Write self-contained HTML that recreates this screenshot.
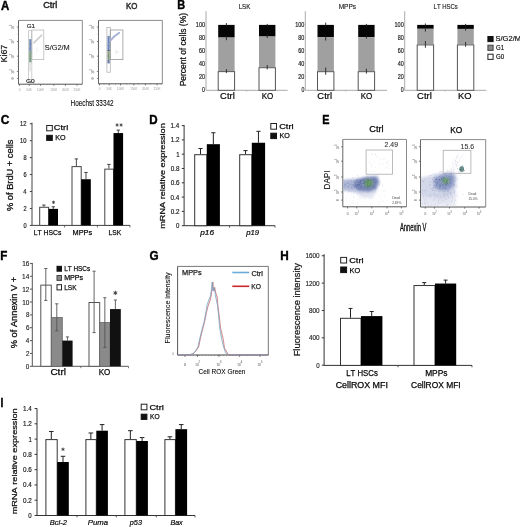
<!DOCTYPE html>
<html><head><meta charset="utf-8"><style>
html,body{margin:0;padding:0;background:#fff;}
body{width:520px;height:527px;overflow:hidden;}
svg{display:block;font-family:"Liberation Sans",sans-serif;will-change:transform;font-kerning:none;letter-spacing:0;}
</style></head><body>
<svg width="520" height="527" viewBox="0 0 520 527">
<rect width="520" height="527" fill="#fff"/>
<g>
<text x="1.06" y="9.5" font-size="12.2" font-weight="bold" fill="#000" textLength="8.29" lengthAdjust="spacingAndGlyphs" stroke="#000" stroke-width="0.4" >A</text>
<text x="43.26" y="7.6" font-size="9.4" fill="#222" textLength="14.12" lengthAdjust="spacingAndGlyphs" stroke="#222" stroke-width="0.45" >Ctrl</text>
<text x="125.98" y="8.75" font-size="9.7" fill="#222" textLength="11.37" lengthAdjust="spacingAndGlyphs" stroke="#222" stroke-width="0.45" >KO</text>
<text x="-0.73" y="0" font-size="8.7" transform="translate(7.1 61.8) rotate(-90)" fill="#111" textLength="17.78" lengthAdjust="spacingAndGlyphs" stroke="#111" stroke-width="0.2">Ki67</text>
<text x="70.53" y="105.7" font-size="9.4" textLength="43.05" lengthAdjust="spacingAndGlyphs" stroke="#111" stroke-width="0.1" >Hoechst 33342</text>
<line x1="18.5" y1="20.4" x2="82.3" y2="20.4" stroke="#8a8a8a" stroke-width="1"/>
<line x1="82.3" y1="20.4" x2="82.3" y2="84.2" stroke="#8a8a8a" stroke-width="1"/>
<line x1="18.5" y1="20.4" x2="18.5" y2="84.2" stroke="#666" stroke-width="1"/>
<line x1="18.5" y1="84.2" x2="82.3" y2="84.2" stroke="#555" stroke-width="1"/>
<line x1="16.9" y1="27" x2="18.5" y2="27" stroke="#666" stroke-width="0.8"/>
<text x="-0.21" y="0" font-size="3.6" transform="translate(14 29.15) rotate(-90)" fill="#8a8a8a" textLength="3.01" lengthAdjust="spacingAndGlyphs" stroke="#8a8a8a" stroke-width="0.1">10</text>
<text x="-0.09" y="0" font-size="2.6" transform="translate(12.3 25.95) rotate(-90)" fill="#8a8a8a" textLength="1.29" lengthAdjust="spacingAndGlyphs" stroke="#8a8a8a" stroke-width="0.1">5</text>
<line x1="16.9" y1="41.5" x2="18.5" y2="41.5" stroke="#666" stroke-width="0.8"/>
<text x="-0.21" y="0" font-size="3.6" transform="translate(14 43.65) rotate(-90)" fill="#8a8a8a" textLength="3.01" lengthAdjust="spacingAndGlyphs" stroke="#8a8a8a" stroke-width="0.1">10</text>
<text x="-0.05" y="0" font-size="2.6" transform="translate(12.3 40.45) rotate(-90)" fill="#8a8a8a" textLength="1.21" lengthAdjust="spacingAndGlyphs" stroke="#8a8a8a" stroke-width="0.1">4</text>
<line x1="16.9" y1="56.2" x2="18.5" y2="56.2" stroke="#666" stroke-width="0.8"/>
<text x="-0.21" y="0" font-size="3.6" transform="translate(14 58.35) rotate(-90)" fill="#8a8a8a" textLength="3.01" lengthAdjust="spacingAndGlyphs" stroke="#8a8a8a" stroke-width="0.1">10</text>
<text x="-0.09" y="0" font-size="2.6" transform="translate(12.3 55.15) rotate(-90)" fill="#8a8a8a" textLength="1.29" lengthAdjust="spacingAndGlyphs" stroke="#8a8a8a" stroke-width="0.1">3</text>
<line x1="16.9" y1="71.5" x2="18.5" y2="71.5" stroke="#666" stroke-width="0.8"/>
<text x="-0.21" y="0" font-size="3.6" transform="translate(14 73.65) rotate(-90)" fill="#8a8a8a" textLength="3.01" lengthAdjust="spacingAndGlyphs" stroke="#8a8a8a" stroke-width="0.1">10</text>
<text x="-0.12" y="0" font-size="2.6" transform="translate(12.3 70.45) rotate(-90)" fill="#8a8a8a" textLength="1.34" lengthAdjust="spacingAndGlyphs" stroke="#8a8a8a" stroke-width="0.1">2</text>
<line x1="16.9" y1="78.5" x2="18.5" y2="78.5" stroke="#666" stroke-width="0.8"/>
<text x="-0.12" y="0" font-size="3.4" transform="translate(14 79.25) rotate(-90)" fill="#8a8a8a" textLength="1.75" lengthAdjust="spacingAndGlyphs" stroke="#8a8a8a" stroke-width="0.1">0</text>
<line x1="17.6" y1="30" x2="18.5" y2="30" stroke="#777" stroke-width="0.6"/>
<line x1="17.6" y1="34" x2="18.5" y2="34" stroke="#777" stroke-width="0.6"/>
<line x1="17.6" y1="46" x2="18.5" y2="46" stroke="#777" stroke-width="0.6"/>
<line x1="17.6" y1="49" x2="18.5" y2="49" stroke="#777" stroke-width="0.6"/>
<line x1="17.6" y1="60" x2="18.5" y2="60" stroke="#777" stroke-width="0.6"/>
<line x1="17.6" y1="64" x2="18.5" y2="64" stroke="#777" stroke-width="0.6"/>
<line x1="17.6" y1="66.5" x2="18.5" y2="66.5" stroke="#777" stroke-width="0.6"/>
<line x1="19.5" y1="84.2" x2="19.5" y2="85.8" stroke="#555" stroke-width="0.8"/>
<text x="19.5" y="90.6" font-size="3" text-anchor="middle" fill="#999" >0</text>
<line x1="29.2" y1="84.2" x2="29.2" y2="85.8" stroke="#555" stroke-width="0.8"/>
<text x="29.2" y="90.6" font-size="3" text-anchor="middle" fill="#999" >50K</text>
<line x1="40.5" y1="84.2" x2="40.5" y2="85.8" stroke="#555" stroke-width="0.8"/>
<text x="40.5" y="90.6" font-size="3" text-anchor="middle" fill="#999" >100K</text>
<line x1="53.8" y1="84.2" x2="53.8" y2="85.8" stroke="#555" stroke-width="0.8"/>
<text x="53.8" y="90.6" font-size="3" text-anchor="middle" fill="#999" >150K</text>
<line x1="65.4" y1="84.2" x2="65.4" y2="85.8" stroke="#555" stroke-width="0.8"/>
<text x="65.4" y="90.6" font-size="3" text-anchor="middle" fill="#999" >200K</text>
<line x1="77" y1="84.2" x2="77" y2="85.8" stroke="#555" stroke-width="0.8"/>
<text x="77" y="90.6" font-size="3" text-anchor="middle" fill="#999" >250K</text>
<line x1="24" y1="84.2" x2="24" y2="85.1" stroke="#777" stroke-width="0.6"/>
<line x1="35.5" y1="84.2" x2="35.5" y2="85.1" stroke="#777" stroke-width="0.6"/>
<line x1="47" y1="84.2" x2="47" y2="85.1" stroke="#777" stroke-width="0.6"/>
<line x1="58.5" y1="84.2" x2="58.5" y2="85.1" stroke="#777" stroke-width="0.6"/>
<line x1="70" y1="84.2" x2="70" y2="85.1" stroke="#777" stroke-width="0.6"/>
<line x1="81.5" y1="84.2" x2="81.5" y2="85.1" stroke="#777" stroke-width="0.6"/>
<rect x="28.6" y="30.6" width="3.2" height="52.1" fill="none" stroke="#c4c4c4" stroke-width="0.8" />
<rect x="31.8" y="30" width="12" height="29.6" fill="none" stroke="#bbb" stroke-width="0.8" />
<rect x="29.2" y="39.2" width="2.2" height="12.2" fill="#7890bc"/>
<rect x="29.2" y="51.2" width="2.2" height="11.4" fill="#86a488"/>
<rect x="29.2" y="62.4" width="2.2" height="9" fill="#e4e6e4"/>
<circle cx="30.25" cy="49.38" r="0.35" fill="#9fb4d8" fill-opacity="0.7"/>
<circle cx="30.69" cy="43" r="0.35" fill="#5a7aaa" fill-opacity="0.7"/>
<circle cx="30.27" cy="45.23" r="0.35" fill="#9fb4d8" fill-opacity="0.7"/>
<circle cx="30.18" cy="47.55" r="0.35" fill="#5a7aaa" fill-opacity="0.7"/>
<circle cx="29.27" cy="46.24" r="0.35" fill="#9fb4d8" fill-opacity="0.7"/>
<circle cx="29.41" cy="49.19" r="0.35" fill="#4f6fa0" fill-opacity="0.7"/>
<circle cx="29.53" cy="39.72" r="0.35" fill="#5a7aaa" fill-opacity="0.7"/>
<circle cx="30.13" cy="45.39" r="0.35" fill="#4f6fa0" fill-opacity="0.7"/>
<circle cx="30.88" cy="52.41" r="0.35" fill="#4f6fa0" fill-opacity="0.7"/>
<circle cx="30.16" cy="45.83" r="0.35" fill="#9fb4d8" fill-opacity="0.7"/>
<circle cx="29.42" cy="45.95" r="0.35" fill="#9fb4d8" fill-opacity="0.7"/>
<circle cx="29.95" cy="37.31" r="0.35" fill="#9fb4d8" fill-opacity="0.7"/>
<circle cx="30.11" cy="40.45" r="0.35" fill="#4f6fa0" fill-opacity="0.7"/>
<circle cx="30.36" cy="43.91" r="0.35" fill="#4f6fa0" fill-opacity="0.7"/>
<circle cx="29.81" cy="45.09" r="0.35" fill="#5a7aaa" fill-opacity="0.7"/>
<circle cx="29.55" cy="46.92" r="0.35" fill="#9fb4d8" fill-opacity="0.7"/>
<circle cx="29.37" cy="48.15" r="0.35" fill="#5a7aaa" fill-opacity="0.7"/>
<circle cx="29.81" cy="48.74" r="0.35" fill="#5a7aaa" fill-opacity="0.7"/>
<circle cx="30.25" cy="48.15" r="0.35" fill="#4f6fa0" fill-opacity="0.7"/>
<circle cx="31.15" cy="36.57" r="0.35" fill="#5a7aaa" fill-opacity="0.7"/>
<circle cx="29.94" cy="39.89" r="0.35" fill="#9fb4d8" fill-opacity="0.7"/>
<circle cx="31.26" cy="43.33" r="0.35" fill="#5a7aaa" fill-opacity="0.7"/>
<circle cx="30.78" cy="48.11" r="0.35" fill="#5a7aaa" fill-opacity="0.7"/>
<circle cx="30.52" cy="41.02" r="0.35" fill="#9fb4d8" fill-opacity="0.7"/>
<circle cx="30.61" cy="59.42" r="0.35" fill="#6a8a7a" fill-opacity="0.7"/>
<circle cx="30.41" cy="56.92" r="0.35" fill="#5f8f6f" fill-opacity="0.7"/>
<circle cx="29.96" cy="57.91" r="0.35" fill="#a0bca0" fill-opacity="0.7"/>
<circle cx="29.74" cy="58.37" r="0.35" fill="#5f8f6f" fill-opacity="0.7"/>
<circle cx="30.86" cy="58.14" r="0.35" fill="#5f8f6f" fill-opacity="0.7"/>
<circle cx="29.72" cy="59.77" r="0.35" fill="#6a8a7a" fill-opacity="0.7"/>
<circle cx="31.23" cy="51.27" r="0.35" fill="#6a8a7a" fill-opacity="0.7"/>
<circle cx="30.21" cy="57.81" r="0.35" fill="#5f8f6f" fill-opacity="0.7"/>
<circle cx="30.8" cy="58.89" r="0.35" fill="#5f8f6f" fill-opacity="0.7"/>
<circle cx="31.47" cy="54.48" r="0.35" fill="#a0bca0" fill-opacity="0.7"/>
<circle cx="29.98" cy="55.88" r="0.35" fill="#5f8f6f" fill-opacity="0.7"/>
<circle cx="30.65" cy="56.66" r="0.35" fill="#a0bca0" fill-opacity="0.7"/>
<circle cx="31.23" cy="55.36" r="0.35" fill="#a0bca0" fill-opacity="0.7"/>
<circle cx="29.48" cy="61.24" r="0.35" fill="#a0bca0" fill-opacity="0.7"/>
<circle cx="29.78" cy="53.83" r="0.35" fill="#6a8a7a" fill-opacity="0.7"/>
<circle cx="31.27" cy="61.84" r="0.35" fill="#6a8a7a" fill-opacity="0.7"/>
<circle cx="30.11" cy="61.22" r="0.35" fill="#6a8a7a" fill-opacity="0.7"/>
<circle cx="30.23" cy="59.53" r="0.35" fill="#a0bca0" fill-opacity="0.7"/>
<circle cx="29.58" cy="56.5" r="0.35" fill="#5f8f6f" fill-opacity="0.7"/>
<circle cx="30.55" cy="48.38" r="0.35" fill="#a0bca0" fill-opacity="0.7"/>
<path d="M34 42.8 L41.6 35.2" stroke="#c6c6ce" stroke-width="1.6" stroke-linecap="round" fill="none"/>
<circle cx="38.15" cy="49.43" r="0.35" fill="#c8c8d0" fill-opacity="0.8"/>
<circle cx="38.07" cy="50.29" r="0.35" fill="#c8c8d0" fill-opacity="0.8"/>
<circle cx="34.89" cy="53.46" r="0.35" fill="#c8c8d0" fill-opacity="0.8"/>
<circle cx="36.48" cy="48.47" r="0.35" fill="#c8c8d0" fill-opacity="0.8"/>
<circle cx="36.74" cy="48.85" r="0.35" fill="#c8c8d0" fill-opacity="0.8"/>
<circle cx="36.49" cy="51.76" r="0.35" fill="#c8c8d0" fill-opacity="0.8"/>
<circle cx="36.84" cy="50.44" r="0.35" fill="#c8c8d0" fill-opacity="0.8"/>
<circle cx="37.02" cy="47.37" r="0.35" fill="#c8c8d0" fill-opacity="0.8"/>
<text x="26.66" y="28.2" font-size="6.2" fill="#222" textLength="8.37" lengthAdjust="spacingAndGlyphs" stroke="#222" stroke-width="0.15" >G1</text>
<text x="44.71" y="49.8" font-size="7.1" fill="#222" textLength="25.04" lengthAdjust="spacingAndGlyphs" stroke="#222" stroke-width="0.1" >S/G2/M</text>
<text x="25.94" y="82.9" font-size="6.2" fill="#222" textLength="8.84" lengthAdjust="spacingAndGlyphs" stroke="#222" stroke-width="0.15" >G0</text>
<line x1="98.5" y1="20.4" x2="162.3" y2="20.4" stroke="#8a8a8a" stroke-width="1"/>
<line x1="162.3" y1="20.4" x2="162.3" y2="83.8" stroke="#8a8a8a" stroke-width="1"/>
<line x1="98.5" y1="20.4" x2="98.5" y2="83.8" stroke="#666" stroke-width="1"/>
<line x1="98.5" y1="83.8" x2="162.3" y2="83.8" stroke="#555" stroke-width="1"/>
<line x1="96.9" y1="27" x2="98.5" y2="27" stroke="#666" stroke-width="0.8"/>
<text x="-0.21" y="0" font-size="3.6" transform="translate(94 29.15) rotate(-90)" fill="#8a8a8a" textLength="3.01" lengthAdjust="spacingAndGlyphs" stroke="#8a8a8a" stroke-width="0.1">10</text>
<text x="-0.09" y="0" font-size="2.6" transform="translate(92.3 25.95) rotate(-90)" fill="#8a8a8a" textLength="1.29" lengthAdjust="spacingAndGlyphs" stroke="#8a8a8a" stroke-width="0.1">5</text>
<line x1="96.9" y1="41.5" x2="98.5" y2="41.5" stroke="#666" stroke-width="0.8"/>
<text x="-0.21" y="0" font-size="3.6" transform="translate(94 43.65) rotate(-90)" fill="#8a8a8a" textLength="3.01" lengthAdjust="spacingAndGlyphs" stroke="#8a8a8a" stroke-width="0.1">10</text>
<text x="-0.05" y="0" font-size="2.6" transform="translate(92.3 40.45) rotate(-90)" fill="#8a8a8a" textLength="1.21" lengthAdjust="spacingAndGlyphs" stroke="#8a8a8a" stroke-width="0.1">4</text>
<line x1="96.9" y1="56.2" x2="98.5" y2="56.2" stroke="#666" stroke-width="0.8"/>
<text x="-0.21" y="0" font-size="3.6" transform="translate(94 58.35) rotate(-90)" fill="#8a8a8a" textLength="3.01" lengthAdjust="spacingAndGlyphs" stroke="#8a8a8a" stroke-width="0.1">10</text>
<text x="-0.09" y="0" font-size="2.6" transform="translate(92.3 55.15) rotate(-90)" fill="#8a8a8a" textLength="1.29" lengthAdjust="spacingAndGlyphs" stroke="#8a8a8a" stroke-width="0.1">3</text>
<line x1="96.9" y1="71.5" x2="98.5" y2="71.5" stroke="#666" stroke-width="0.8"/>
<text x="-0.21" y="0" font-size="3.6" transform="translate(94 73.65) rotate(-90)" fill="#8a8a8a" textLength="3.01" lengthAdjust="spacingAndGlyphs" stroke="#8a8a8a" stroke-width="0.1">10</text>
<text x="-0.12" y="0" font-size="2.6" transform="translate(92.3 70.45) rotate(-90)" fill="#8a8a8a" textLength="1.34" lengthAdjust="spacingAndGlyphs" stroke="#8a8a8a" stroke-width="0.1">2</text>
<line x1="96.9" y1="78.5" x2="98.5" y2="78.5" stroke="#666" stroke-width="0.8"/>
<text x="-0.12" y="0" font-size="3.4" transform="translate(94 79.25) rotate(-90)" fill="#8a8a8a" textLength="1.75" lengthAdjust="spacingAndGlyphs" stroke="#8a8a8a" stroke-width="0.1">0</text>
<line x1="97.6" y1="30" x2="98.5" y2="30" stroke="#777" stroke-width="0.6"/>
<line x1="97.6" y1="34" x2="98.5" y2="34" stroke="#777" stroke-width="0.6"/>
<line x1="97.6" y1="46" x2="98.5" y2="46" stroke="#777" stroke-width="0.6"/>
<line x1="97.6" y1="49" x2="98.5" y2="49" stroke="#777" stroke-width="0.6"/>
<line x1="97.6" y1="60" x2="98.5" y2="60" stroke="#777" stroke-width="0.6"/>
<line x1="97.6" y1="64" x2="98.5" y2="64" stroke="#777" stroke-width="0.6"/>
<line x1="97.6" y1="66.5" x2="98.5" y2="66.5" stroke="#777" stroke-width="0.6"/>
<line x1="99.5" y1="83.8" x2="99.5" y2="85.4" stroke="#555" stroke-width="0.8"/>
<text x="99.5" y="90.2" font-size="3" text-anchor="middle" fill="#999" >0</text>
<line x1="109.2" y1="83.8" x2="109.2" y2="85.4" stroke="#555" stroke-width="0.8"/>
<text x="109.2" y="90.2" font-size="3" text-anchor="middle" fill="#999" >50K</text>
<line x1="120.5" y1="83.8" x2="120.5" y2="85.4" stroke="#555" stroke-width="0.8"/>
<text x="120.5" y="90.2" font-size="3" text-anchor="middle" fill="#999" >100K</text>
<line x1="133.8" y1="83.8" x2="133.8" y2="85.4" stroke="#555" stroke-width="0.8"/>
<text x="133.8" y="90.2" font-size="3" text-anchor="middle" fill="#999" >150K</text>
<line x1="145.4" y1="83.8" x2="145.4" y2="85.4" stroke="#555" stroke-width="0.8"/>
<text x="145.4" y="90.2" font-size="3" text-anchor="middle" fill="#999" >200K</text>
<line x1="157" y1="83.8" x2="157" y2="85.4" stroke="#555" stroke-width="0.8"/>
<text x="157" y="90.2" font-size="3" text-anchor="middle" fill="#999" >250K</text>
<line x1="104" y1="83.8" x2="104" y2="84.7" stroke="#777" stroke-width="0.6"/>
<line x1="115.5" y1="83.8" x2="115.5" y2="84.7" stroke="#777" stroke-width="0.6"/>
<line x1="127" y1="83.8" x2="127" y2="84.7" stroke="#777" stroke-width="0.6"/>
<line x1="138.5" y1="83.8" x2="138.5" y2="84.7" stroke="#777" stroke-width="0.6"/>
<line x1="150" y1="83.8" x2="150" y2="84.7" stroke="#777" stroke-width="0.6"/>
<line x1="161.5" y1="83.8" x2="161.5" y2="84.7" stroke="#777" stroke-width="0.6"/>
<rect x="106.9" y="27.4" width="3.4" height="44.8" fill="none" stroke="#b4b4b4" stroke-width="0.8" />
<rect x="110.3" y="30" width="12.6" height="29.6" fill="none" stroke="#999" stroke-width="0.8" />
<rect x="107.5" y="36" width="2.2" height="14.4" fill="#7088bc"/>
<rect x="107.5" y="50" width="2.2" height="1.2" fill="#505a7a"/>
<rect x="107.5" y="51.2" width="2.2" height="8.8" fill="#8a9e84"/>
<rect x="107.5" y="60" width="2.2" height="3.4" fill="#6a7aa8"/>
<circle cx="109.32" cy="46.92" r="0.35" fill="#5a7ab0" fill-opacity="0.7"/>
<circle cx="108.49" cy="41.3" r="0.35" fill="#5a7ab0" fill-opacity="0.7"/>
<circle cx="108.75" cy="49.22" r="0.35" fill="#4a6aa8" fill-opacity="0.7"/>
<circle cx="108.25" cy="47.65" r="0.35" fill="#5a7ab0" fill-opacity="0.7"/>
<circle cx="108.53" cy="41.46" r="0.35" fill="#9fb4d8" fill-opacity="0.7"/>
<circle cx="109.31" cy="41.35" r="0.35" fill="#4a6aa8" fill-opacity="0.7"/>
<circle cx="107.69" cy="45.6" r="0.35" fill="#4a6aa8" fill-opacity="0.7"/>
<circle cx="109.32" cy="45.77" r="0.35" fill="#4a6aa8" fill-opacity="0.7"/>
<circle cx="109.01" cy="40.46" r="0.35" fill="#4a6aa8" fill-opacity="0.7"/>
<circle cx="108.63" cy="42.11" r="0.35" fill="#4a6aa8" fill-opacity="0.7"/>
<circle cx="108.22" cy="49.11" r="0.35" fill="#5a7ab0" fill-opacity="0.7"/>
<circle cx="108.76" cy="45.59" r="0.35" fill="#5a7ab0" fill-opacity="0.7"/>
<circle cx="109.2" cy="45.49" r="0.35" fill="#5a7ab0" fill-opacity="0.7"/>
<circle cx="108.88" cy="45.12" r="0.35" fill="#9fb4d8" fill-opacity="0.7"/>
<circle cx="107.91" cy="44.09" r="0.35" fill="#9fb4d8" fill-opacity="0.7"/>
<circle cx="108.15" cy="44.74" r="0.35" fill="#9fb4d8" fill-opacity="0.7"/>
<circle cx="108.63" cy="43.28" r="0.35" fill="#5a7ab0" fill-opacity="0.7"/>
<circle cx="109.13" cy="42.69" r="0.35" fill="#5a7ab0" fill-opacity="0.7"/>
<circle cx="108.74" cy="48.7" r="0.35" fill="#5a7ab0" fill-opacity="0.7"/>
<circle cx="108.58" cy="34" r="0.35" fill="#5a7ab0" fill-opacity="0.7"/>
<circle cx="108.41" cy="45.11" r="0.35" fill="#4a6aa8" fill-opacity="0.7"/>
<circle cx="109.43" cy="35.75" r="0.35" fill="#4a6aa8" fill-opacity="0.7"/>
<circle cx="108.66" cy="42.01" r="0.35" fill="#5a7ab0" fill-opacity="0.7"/>
<circle cx="108.27" cy="42.82" r="0.35" fill="#9fb4d8" fill-opacity="0.7"/>
<circle cx="108.53" cy="54.79" r="0.35" fill="#6a7a90" fill-opacity="0.7"/>
<circle cx="109.03" cy="57.28" r="0.35" fill="#5f7f5f" fill-opacity="0.7"/>
<circle cx="108.28" cy="52.08" r="0.35" fill="#a0b888" fill-opacity="0.7"/>
<circle cx="109.64" cy="57.03" r="0.35" fill="#5f7f5f" fill-opacity="0.7"/>
<circle cx="108.39" cy="56.79" r="0.35" fill="#6a7a90" fill-opacity="0.7"/>
<circle cx="107.74" cy="55.7" r="0.35" fill="#a0b888" fill-opacity="0.7"/>
<circle cx="108.65" cy="56.41" r="0.35" fill="#5f7f5f" fill-opacity="0.7"/>
<circle cx="109.02" cy="59.37" r="0.35" fill="#5f7f5f" fill-opacity="0.7"/>
<circle cx="108.63" cy="54.69" r="0.35" fill="#6a7a90" fill-opacity="0.7"/>
<circle cx="108.14" cy="53.78" r="0.35" fill="#a0b888" fill-opacity="0.7"/>
<circle cx="108.61" cy="58.88" r="0.35" fill="#6a7a90" fill-opacity="0.7"/>
<circle cx="108.1" cy="56.47" r="0.35" fill="#5f7f5f" fill-opacity="0.7"/>
<circle cx="109.14" cy="51.22" r="0.35" fill="#5f7f5f" fill-opacity="0.7"/>
<circle cx="108.73" cy="55.74" r="0.35" fill="#5f7f5f" fill-opacity="0.7"/>
<circle cx="108.73" cy="54.06" r="0.35" fill="#6a7a90" fill-opacity="0.7"/>
<circle cx="108.31" cy="55.1" r="0.35" fill="#5f7f5f" fill-opacity="0.7"/>
<path d="M110.2 40.8 C113 37 115 35.5 119.2 32.8" stroke="#a4b0d4" stroke-width="1.9" stroke-linecap="round" fill="none"/>
<circle cx="115.97" cy="53.74" r="0.4" fill="#c0c8d8" fill-opacity="0.8"/>
<circle cx="116.5" cy="52.75" r="0.4" fill="#c0c8d8" fill-opacity="0.8"/>
<circle cx="116.43" cy="52.34" r="0.4" fill="#c0c8d8" fill-opacity="0.8"/>
<circle cx="116.75" cy="50.57" r="0.4" fill="#c0c8d8" fill-opacity="0.8"/>
<circle cx="116.68" cy="51.82" r="0.4" fill="#c0c8d8" fill-opacity="0.8"/>
<circle cx="115.34" cy="50.4" r="0.4" fill="#c0c8d8" fill-opacity="0.8"/>
<circle cx="116.77" cy="51.66" r="0.4" fill="#c0c8d8" fill-opacity="0.8"/>
<circle cx="118.59" cy="52.69" r="0.4" fill="#c0c8d8" fill-opacity="0.8"/>
<circle cx="115.38" cy="53.11" r="0.4" fill="#c0c8d8" fill-opacity="0.8"/>
<circle cx="117.84" cy="52.12" r="0.4" fill="#c0c8d8" fill-opacity="0.8"/>
<text x="177.27" y="9.2" font-size="12.2" font-weight="bold" fill="#000" textLength="7.93" lengthAdjust="spacingAndGlyphs" stroke="#000" stroke-width="0.4" >B</text>
<text x="-0.69" y="0" font-size="8.8" transform="translate(185.8 85.67) rotate(-90)" fill="#111" textLength="73.37" lengthAdjust="spacingAndGlyphs" stroke="#111" stroke-width="0.25">Percent of cells (%)</text>
<line x1="206" y1="11.2" x2="206" y2="90.3" stroke="#aaa" stroke-width="1"/>
<line x1="206" y1="90.3" x2="287.7" y2="90.3" stroke="#aaa" stroke-width="1"/>
<line x1="246.4" y1="90.3" x2="246.4" y2="91.6" stroke="#aaa" stroke-width="0.8"/>
<text x="202.11" y="92.4" font-size="7.2" fill="#222" textLength="2.89" lengthAdjust="spacingAndGlyphs" stroke="#222" stroke-width="0.2" >0</text>
<text x="198.98" y="79.4" font-size="7.2" fill="#222" textLength="6.03" lengthAdjust="spacingAndGlyphs" stroke="#222" stroke-width="0.2" >20</text>
<text x="198.98" y="66.4" font-size="7.2" fill="#222" textLength="6.03" lengthAdjust="spacingAndGlyphs" stroke="#222" stroke-width="0.2" >40</text>
<text x="198.98" y="53.4" font-size="7.2" fill="#222" textLength="6.03" lengthAdjust="spacingAndGlyphs" stroke="#222" stroke-width="0.2" >60</text>
<text x="198.98" y="40.4" font-size="7.2" fill="#222" textLength="6.03" lengthAdjust="spacingAndGlyphs" stroke="#222" stroke-width="0.2" >80</text>
<text x="195.86" y="27.4" font-size="7.2" fill="#222" textLength="9.16" lengthAdjust="spacingAndGlyphs" stroke="#222" stroke-width="0.2" >100</text>
<text x="238.67" y="9.1" font-size="7.6" fill="#222" textLength="11.73" lengthAdjust="spacingAndGlyphs" stroke="#222" stroke-width="0.15" >LSK</text>
<rect x="218.2" y="24.9" width="16.4" height="12.67" fill="#050505" stroke="none" stroke-width="1" />
<rect x="218.2" y="37.58" width="16.4" height="33.54" fill="#a0a0a0" stroke="none" stroke-width="1" />
<rect x="218.2" y="71.62" width="16.4" height="18.68" fill="#fff" stroke="#555" stroke-width="1" />
<line x1="226.4" y1="23" x2="226.4" y2="26.4" stroke="#222" stroke-width="0.9"/>
<line x1="226.4" y1="36.08" x2="226.4" y2="40.18" stroke="#222" stroke-width="0.9"/>
<line x1="226.4" y1="69.12" x2="226.4" y2="73.12" stroke="#222" stroke-width="0.9"/>
<rect x="259" y="24.9" width="16.4" height="11.64" fill="#050505" stroke="none" stroke-width="1" />
<rect x="259" y="36.54" width="16.4" height="30.68" fill="#a0a0a0" stroke="none" stroke-width="1" />
<rect x="259" y="67.72" width="16.4" height="22.58" fill="#fff" stroke="#555" stroke-width="1" />
<line x1="267.2" y1="23.9" x2="267.2" y2="26.4" stroke="#222" stroke-width="0.9"/>
<line x1="267.2" y1="35.04" x2="267.2" y2="38.04" stroke="#222" stroke-width="0.9"/>
<line x1="267.2" y1="65.02" x2="267.2" y2="69.42" stroke="#222" stroke-width="0.9"/>
<text x="220.12" y="99.2" font-size="8.3" textLength="14.71" lengthAdjust="spacingAndGlyphs" stroke="#111" stroke-width="0.2" >Ctrl</text>
<text x="261.74" y="99.2" font-size="8.3" textLength="11.65" lengthAdjust="spacingAndGlyphs" stroke="#111" stroke-width="0.2" >KO</text>
<line x1="305.3" y1="11.2" x2="305.3" y2="90.3" stroke="#aaa" stroke-width="1"/>
<line x1="305.3" y1="90.3" x2="387" y2="90.3" stroke="#aaa" stroke-width="1"/>
<line x1="345.7" y1="90.3" x2="345.7" y2="91.6" stroke="#aaa" stroke-width="0.8"/>
<text x="301.41" y="92.4" font-size="7.2" fill="#222" textLength="2.89" lengthAdjust="spacingAndGlyphs" stroke="#222" stroke-width="0.2" >0</text>
<text x="298.28" y="79.4" font-size="7.2" fill="#222" textLength="6.03" lengthAdjust="spacingAndGlyphs" stroke="#222" stroke-width="0.2" >20</text>
<text x="298.28" y="66.4" font-size="7.2" fill="#222" textLength="6.03" lengthAdjust="spacingAndGlyphs" stroke="#222" stroke-width="0.2" >40</text>
<text x="298.28" y="53.4" font-size="7.2" fill="#222" textLength="6.03" lengthAdjust="spacingAndGlyphs" stroke="#222" stroke-width="0.2" >60</text>
<text x="298.28" y="40.4" font-size="7.2" fill="#222" textLength="6.03" lengthAdjust="spacingAndGlyphs" stroke="#222" stroke-width="0.2" >80</text>
<text x="295.16" y="27.4" font-size="7.2" fill="#222" textLength="9.16" lengthAdjust="spacingAndGlyphs" stroke="#222" stroke-width="0.2" >100</text>
<text x="338.64" y="9.4" font-size="7.6" fill="#222" textLength="17.53" lengthAdjust="spacingAndGlyphs" stroke="#222" stroke-width="0.15" >MPPs</text>
<rect x="317.5" y="24.9" width="16.4" height="12.22" fill="#050505" stroke="none" stroke-width="1" />
<rect x="317.5" y="37.12" width="16.4" height="34.06" fill="#a0a0a0" stroke="none" stroke-width="1" />
<rect x="317.5" y="71.68" width="16.4" height="18.62" fill="#fff" stroke="#555" stroke-width="1" />
<line x1="325.7" y1="22.6" x2="325.7" y2="26.4" stroke="#222" stroke-width="0.9"/>
<line x1="325.7" y1="35.62" x2="325.7" y2="40.52" stroke="#222" stroke-width="0.9"/>
<line x1="325.7" y1="67.58" x2="325.7" y2="74.78" stroke="#222" stroke-width="0.9"/>
<rect x="358.2" y="24.9" width="16.4" height="12.22" fill="#050505" stroke="none" stroke-width="1" />
<rect x="358.2" y="37.12" width="16.4" height="34.06" fill="#a0a0a0" stroke="none" stroke-width="1" />
<rect x="358.2" y="71.68" width="16.4" height="18.62" fill="#fff" stroke="#555" stroke-width="1" />
<line x1="366.4" y1="23.9" x2="366.4" y2="26.4" stroke="#222" stroke-width="0.9"/>
<line x1="366.4" y1="35.62" x2="366.4" y2="38.62" stroke="#222" stroke-width="0.9"/>
<line x1="366.4" y1="68.78" x2="366.4" y2="73.58" stroke="#222" stroke-width="0.9"/>
<text x="317.32" y="99.2" font-size="8.3" textLength="14.71" lengthAdjust="spacingAndGlyphs" stroke="#111" stroke-width="0.2" >Ctrl</text>
<text x="360.64" y="99.2" font-size="8.3" textLength="11.65" lengthAdjust="spacingAndGlyphs" stroke="#111" stroke-width="0.2" >KO</text>
<line x1="404.7" y1="11.2" x2="404.7" y2="90.3" stroke="#aaa" stroke-width="1"/>
<line x1="404.7" y1="90.3" x2="486.4" y2="90.3" stroke="#aaa" stroke-width="1"/>
<line x1="445.1" y1="90.3" x2="445.1" y2="91.6" stroke="#aaa" stroke-width="0.8"/>
<text x="400.81" y="92.4" font-size="7.2" fill="#222" textLength="2.89" lengthAdjust="spacingAndGlyphs" stroke="#222" stroke-width="0.2" >0</text>
<text x="397.68" y="79.4" font-size="7.2" fill="#222" textLength="6.03" lengthAdjust="spacingAndGlyphs" stroke="#222" stroke-width="0.2" >20</text>
<text x="397.68" y="66.4" font-size="7.2" fill="#222" textLength="6.03" lengthAdjust="spacingAndGlyphs" stroke="#222" stroke-width="0.2" >40</text>
<text x="397.68" y="53.4" font-size="7.2" fill="#222" textLength="6.03" lengthAdjust="spacingAndGlyphs" stroke="#222" stroke-width="0.2" >60</text>
<text x="397.68" y="40.4" font-size="7.2" fill="#222" textLength="6.03" lengthAdjust="spacingAndGlyphs" stroke="#222" stroke-width="0.2" >80</text>
<text x="394.56" y="27.4" font-size="7.2" fill="#222" textLength="9.16" lengthAdjust="spacingAndGlyphs" stroke="#222" stroke-width="0.2" >100</text>
<text x="433.59" y="9.4" font-size="7.6" fill="#222" textLength="24.15" lengthAdjust="spacingAndGlyphs" stroke="#222" stroke-width="0.15" >LT HSCs</text>
<rect x="417.2" y="24.9" width="16.4" height="3.9" fill="#050505" stroke="none" stroke-width="1" />
<rect x="417.2" y="28.8" width="16.4" height="15.6" fill="#a0a0a0" stroke="none" stroke-width="1" />
<rect x="417.2" y="44.9" width="16.4" height="45.4" fill="#fff" stroke="#555" stroke-width="1" />
<line x1="425.4" y1="23.5" x2="425.4" y2="26.4" stroke="#222" stroke-width="0.9"/>
<line x1="425.4" y1="27.3" x2="425.4" y2="31.6" stroke="#222" stroke-width="0.9"/>
<line x1="425.4" y1="41" x2="425.4" y2="47.8" stroke="#222" stroke-width="0.9"/>
<rect x="457.4" y="24.9" width="16.4" height="4.03" fill="#050505" stroke="none" stroke-width="1" />
<rect x="457.4" y="28.93" width="16.4" height="15.47" fill="#a0a0a0" stroke="none" stroke-width="1" />
<rect x="457.4" y="44.9" width="16.4" height="45.4" fill="#fff" stroke="#555" stroke-width="1" />
<line x1="465.6" y1="23.9" x2="465.6" y2="26.4" stroke="#222" stroke-width="0.9"/>
<line x1="465.6" y1="27.43" x2="465.6" y2="30.73" stroke="#222" stroke-width="0.9"/>
<line x1="465.6" y1="42" x2="465.6" y2="46.8" stroke="#222" stroke-width="0.9"/>
<text x="417.12" y="99.2" font-size="8.3" textLength="14.71" lengthAdjust="spacingAndGlyphs" stroke="#111" stroke-width="0.2" >Ctrl</text>
<text x="458.13" y="99.2" font-size="8.3" textLength="13.51" lengthAdjust="spacingAndGlyphs" stroke="#111" stroke-width="0.2" >KO</text>
<rect x="487.9" y="36.5" width="5.2" height="5.1" fill="#111" stroke="#111" stroke-width="1" />
<rect x="487.9" y="45.2" width="5.2" height="5.2" fill="#888" stroke="#444" stroke-width="1" />
<rect x="487.9" y="54.2" width="5.2" height="5.2" fill="#fff" stroke="#222" stroke-width="1" />
<text x="495.53" y="40.8" font-size="7" textLength="25.51" lengthAdjust="spacingAndGlyphs" stroke="#111" stroke-width="0.15" >S/G2/M</text>
<text x="496.08" y="49.8" font-size="7" textLength="7.94" lengthAdjust="spacingAndGlyphs" stroke="#111" stroke-width="0.15" >G1</text>
<text x="495.97" y="58.8" font-size="7" textLength="8.2" lengthAdjust="spacingAndGlyphs" stroke="#111" stroke-width="0.15" >G0</text>
<text x="0.71" y="123.6" font-size="12.2" font-weight="bold" fill="#000" textLength="8.62" lengthAdjust="spacingAndGlyphs" stroke="#000" stroke-width="0.4" >C</text>
<text x="-0.33" y="0" font-size="9.8" transform="translate(12.9 210.65) rotate(-90)" fill="#111" textLength="71.37" lengthAdjust="spacingAndGlyphs" stroke="#111" stroke-width="0.3">% of BrdU + cells</text>
<line x1="32" y1="122.6" x2="32" y2="225.4" stroke="#444" stroke-width="1"/>
<line x1="32" y1="225.4" x2="130" y2="225.4" stroke="#444" stroke-width="1"/>
<line x1="64.6" y1="225.4" x2="64.6" y2="227.4" stroke="#444" stroke-width="0.8"/>
<line x1="97.4" y1="225.4" x2="97.4" y2="227.4" stroke="#444" stroke-width="0.8"/>
<line x1="130" y1="225.4" x2="130" y2="227.4" stroke="#444" stroke-width="0.8"/>
<line x1="29.8" y1="225.4" x2="32" y2="225.4" stroke="#444" stroke-width="1"/>
<text x="23.4" y="227.9" font-size="7.1" fill="#222" textLength="3.12" lengthAdjust="spacingAndGlyphs" stroke="#222" stroke-width="0.2" >0</text>
<line x1="29.8" y1="208.46" x2="32" y2="208.46" stroke="#444" stroke-width="1"/>
<text x="23.47" y="210.96" font-size="7.1" fill="#222" textLength="3.11" lengthAdjust="spacingAndGlyphs" stroke="#222" stroke-width="0.2" >2</text>
<line x1="29.8" y1="191.52" x2="32" y2="191.52" stroke="#444" stroke-width="1"/>
<text x="23.33" y="194.02" font-size="7.1" fill="#222" textLength="3.14" lengthAdjust="spacingAndGlyphs" stroke="#222" stroke-width="0.2" >4</text>
<line x1="29.8" y1="174.58" x2="32" y2="174.58" stroke="#444" stroke-width="1"/>
<text x="23.43" y="177.08" font-size="7.1" fill="#222" textLength="3.12" lengthAdjust="spacingAndGlyphs" stroke="#222" stroke-width="0.2" >6</text>
<line x1="29.8" y1="157.64" x2="32" y2="157.64" stroke="#444" stroke-width="1"/>
<text x="23.42" y="160.14" font-size="7.1" fill="#222" textLength="3.12" lengthAdjust="spacingAndGlyphs" stroke="#222" stroke-width="0.2" >8</text>
<line x1="29.8" y1="140.7" x2="32" y2="140.7" stroke="#444" stroke-width="1"/>
<text x="20.04" y="143.2" font-size="7.1" fill="#222" textLength="6.49" lengthAdjust="spacingAndGlyphs" stroke="#222" stroke-width="0.2" >10</text>
<line x1="29.8" y1="123.76" x2="32" y2="123.76" stroke="#444" stroke-width="1"/>
<text x="20.11" y="126.26" font-size="7.1" fill="#222" textLength="6.49" lengthAdjust="spacingAndGlyphs" stroke="#222" stroke-width="0.2" >12</text>
<line x1="43.9" y1="205.07" x2="43.9" y2="206.77" stroke="#333" stroke-width="0.9"/>
<line x1="42.2" y1="205.07" x2="45.6" y2="205.07" stroke="#333" stroke-width="0.9"/>
<rect x="39.7" y="207.27" width="8.9" height="18.13" fill="#fff" stroke="#444" stroke-width="1" />
<line x1="53.3" y1="206.77" x2="53.3" y2="208.88" stroke="#333" stroke-width="0.9"/>
<line x1="51.6" y1="206.77" x2="55" y2="206.77" stroke="#333" stroke-width="0.9"/>
<rect x="48.6" y="208.88" width="9.4" height="16.52" fill="#000" stroke="none" stroke-width="1" />
<line x1="76.35" y1="158.91" x2="76.35" y2="166.11" stroke="#333" stroke-width="0.9"/>
<line x1="74.65" y1="158.91" x2="78.05" y2="158.91" stroke="#333" stroke-width="0.9"/>
<rect x="72" y="166.61" width="9.2" height="58.79" fill="#fff" stroke="#444" stroke-width="1" />
<line x1="86" y1="172.46" x2="86" y2="179.24" stroke="#333" stroke-width="0.9"/>
<line x1="84.3" y1="172.46" x2="87.7" y2="172.46" stroke="#333" stroke-width="0.9"/>
<rect x="81.2" y="179.24" width="9.6" height="46.16" fill="#000" stroke="none" stroke-width="1" />
<line x1="108.9" y1="164.42" x2="108.9" y2="168.65" stroke="#333" stroke-width="0.9"/>
<line x1="107.2" y1="164.42" x2="110.6" y2="164.42" stroke="#333" stroke-width="0.9"/>
<rect x="104.8" y="169.15" width="8.7" height="56.25" fill="#fff" stroke="#444" stroke-width="1" />
<line x1="118.3" y1="130.11" x2="118.3" y2="133.08" stroke="#333" stroke-width="0.9"/>
<line x1="116.6" y1="130.11" x2="120" y2="130.11" stroke="#333" stroke-width="0.9"/>
<rect x="113.5" y="133.08" width="9.6" height="92.32" fill="#000" stroke="none" stroke-width="1" />
<path d="M53.5 200.7 L53.5 203.9 M54.89 201.5 L52.11 203.1 M54.89 203.1 L52.11 201.5" stroke="#444" stroke-width="0.9" fill="none"/>
<path d="M117.1 123.4 L117.1 126.6 M118.49 124.2 L115.71 125.8 M118.49 125.8 L115.71 124.2" stroke="#444" stroke-width="0.9" fill="none"/>
<path d="M121.1 123.4 L121.1 126.6 M122.49 124.2 L119.71 125.8 M122.49 125.8 L119.71 124.2" stroke="#444" stroke-width="0.9" fill="none"/>
<rect x="46.7" y="125.5" width="5.6" height="5.3" fill="#fff" stroke="#222" stroke-width="1" />
<rect x="46.7" y="135.3" width="5.6" height="5.1" fill="#111" stroke="#111" stroke-width="1" />
<text x="53.86" y="130.3" font-size="8" textLength="14.33" lengthAdjust="spacingAndGlyphs" stroke="#111" stroke-width="0.25" >Ctrl</text>
<text x="55.14" y="139.9" font-size="8" textLength="10.38" lengthAdjust="spacingAndGlyphs" stroke="#111" stroke-width="0.25" >KO</text>
<text x="33.77" y="234.6" font-size="7.8" textLength="27.55" lengthAdjust="spacingAndGlyphs" stroke="#111" stroke-width="0.25" >LT HSCs</text>
<text x="72.52" y="235" font-size="7.8" textLength="19.62" lengthAdjust="spacingAndGlyphs" stroke="#111" stroke-width="0.25" >MPPs</text>
<text x="108.47" y="235" font-size="7.8" textLength="12.68" lengthAdjust="spacingAndGlyphs" stroke="#111" stroke-width="0.25" >LSK</text>
<text x="149.23" y="124.2" font-size="12.2" font-weight="bold" fill="#000" textLength="8.36" lengthAdjust="spacingAndGlyphs" stroke="#000" stroke-width="0.4" >D</text>
<text x="-0.61" y="0" font-size="8" transform="translate(165.3 228.18) rotate(-90)" fill="#111" textLength="105.55" lengthAdjust="spacingAndGlyphs" stroke="#111" stroke-width="0.25">mRNA relative expression</text>
<line x1="184.1" y1="125" x2="184.1" y2="225.7" stroke="#333" stroke-width="1"/>
<line x1="184.1" y1="225.7" x2="275" y2="225.7" stroke="#333" stroke-width="1"/>
<line x1="229.5" y1="225.7" x2="229.5" y2="227.6" stroke="#333" stroke-width="0.8"/>
<line x1="275" y1="225.7" x2="275" y2="227.6" stroke="#333" stroke-width="0.8"/>
<line x1="181.8" y1="225.7" x2="184.1" y2="225.7" stroke="#333" stroke-width="1"/>
<text x="176.07" y="228.2" font-size="7.2" fill="#222" textLength="3.37" lengthAdjust="spacingAndGlyphs" stroke="#222" stroke-width="0.2" >0</text>
<line x1="181.8" y1="211.4" x2="184.1" y2="211.4" stroke="#333" stroke-width="1"/>
<text x="170.72" y="213.9" font-size="7.2" fill="#222" textLength="8.79" lengthAdjust="spacingAndGlyphs" stroke="#222" stroke-width="0.2" >0.2</text>
<line x1="181.8" y1="197.1" x2="184.1" y2="197.1" stroke="#333" stroke-width="1"/>
<text x="170.59" y="199.6" font-size="7.2" fill="#222" textLength="8.8" lengthAdjust="spacingAndGlyphs" stroke="#222" stroke-width="0.2" >0.4</text>
<line x1="181.8" y1="182.8" x2="184.1" y2="182.8" stroke="#333" stroke-width="1"/>
<text x="170.68" y="185.3" font-size="7.2" fill="#222" textLength="8.8" lengthAdjust="spacingAndGlyphs" stroke="#222" stroke-width="0.2" >0.6</text>
<line x1="181.8" y1="168.5" x2="184.1" y2="168.5" stroke="#333" stroke-width="1"/>
<text x="170.68" y="171" font-size="7.2" fill="#222" textLength="8.8" lengthAdjust="spacingAndGlyphs" stroke="#222" stroke-width="0.2" >0.8</text>
<line x1="181.8" y1="154.2" x2="184.1" y2="154.2" stroke="#333" stroke-width="1"/>
<text x="176.15" y="156.7" font-size="7.2" fill="#222" textLength="3.35" lengthAdjust="spacingAndGlyphs" stroke="#222" stroke-width="0.2" >1</text>
<line x1="181.8" y1="139.9" x2="184.1" y2="139.9" stroke="#333" stroke-width="1"/>
<text x="170.73" y="142.4" font-size="7.2" fill="#222" textLength="8.79" lengthAdjust="spacingAndGlyphs" stroke="#222" stroke-width="0.2" >1.2</text>
<line x1="181.8" y1="125.6" x2="184.1" y2="125.6" stroke="#333" stroke-width="1"/>
<text x="170.59" y="128.1" font-size="7.2" fill="#222" textLength="8.79" lengthAdjust="spacingAndGlyphs" stroke="#222" stroke-width="0.2" >1.4</text>
<line x1="200.5" y1="148.48" x2="200.5" y2="154.2" stroke="#222" stroke-width="1"/>
<line x1="198.4" y1="148.48" x2="202.6" y2="148.48" stroke="#222" stroke-width="1"/>
<rect x="194.7" y="154.7" width="12.1" height="71" fill="#fff" stroke="#333" stroke-width="1" />
<line x1="213.35" y1="132.75" x2="213.35" y2="144.19" stroke="#222" stroke-width="1"/>
<line x1="211.25" y1="132.75" x2="215.45" y2="132.75" stroke="#222" stroke-width="1"/>
<rect x="206.8" y="144.19" width="13.1" height="81.51" fill="#000" stroke="none" stroke-width="1" />
<line x1="245.5" y1="150.62" x2="245.5" y2="154.2" stroke="#222" stroke-width="1"/>
<line x1="243.4" y1="150.62" x2="247.6" y2="150.62" stroke="#222" stroke-width="1"/>
<rect x="239.7" y="154.7" width="12.1" height="71" fill="#fff" stroke="#333" stroke-width="1" />
<line x1="258.45" y1="131.32" x2="258.45" y2="142.76" stroke="#222" stroke-width="1"/>
<line x1="256.35" y1="131.32" x2="260.55" y2="131.32" stroke="#222" stroke-width="1"/>
<rect x="251.8" y="142.76" width="13.3" height="82.94" fill="#000" stroke="none" stroke-width="1" />
<rect x="270.8" y="123.5" width="5.7" height="5.7" fill="#fff" stroke="#222" stroke-width="1" />
<rect x="270.8" y="133.2" width="5.7" height="5.4" fill="#111" stroke="#111" stroke-width="1" />
<text x="279.15" y="128.8" font-size="8" textLength="14.44" lengthAdjust="spacingAndGlyphs" stroke="#111" stroke-width="0.25" >Ctrl</text>
<text x="279.54" y="138.4" font-size="8" textLength="10.38" lengthAdjust="spacingAndGlyphs" stroke="#111" stroke-width="0.25" >KO</text>
<text x="200.21" y="235.4" font-size="7.6" font-style="italic" textLength="13.79" lengthAdjust="spacingAndGlyphs" stroke="#111" stroke-width="0.2" >p16</text>
<text x="246.29" y="235.4" font-size="7.6" font-style="italic" textLength="12.87" lengthAdjust="spacingAndGlyphs" stroke="#111" stroke-width="0.2" >p19</text>
<text x="322.37" y="123.8" font-size="12.2" font-weight="bold" fill="#000" textLength="7.25" lengthAdjust="spacingAndGlyphs" stroke="#000" stroke-width="0.4" >E</text>
<text x="-0.66" y="0" font-size="8.6" transform="translate(330.2 188.75) rotate(-90)" fill="#111" textLength="18.8" lengthAdjust="spacingAndGlyphs" stroke="#111" stroke-width="0.1">DAPI</text>
<text x="369.26" y="131.8" font-size="8.8" textLength="14.33" lengthAdjust="spacingAndGlyphs" stroke="#111" stroke-width="0.25" >Ctrl</text>
<text x="450.14" y="133" font-size="8.8" textLength="12.03" lengthAdjust="spacingAndGlyphs" stroke="#111" stroke-width="0.25" >KO</text>
<text x="399.94" y="231.2" font-size="10" textLength="26.54" lengthAdjust="spacingAndGlyphs" stroke="#111" stroke-width="0.3" >Annexin V</text>
<line x1="342.8" y1="139.4" x2="406.5" y2="139.4" stroke="#8a8a8a" stroke-width="1"/>
<line x1="406.5" y1="139.4" x2="406.5" y2="206.8" stroke="#8a8a8a" stroke-width="1"/>
<line x1="342.8" y1="139.4" x2="342.8" y2="206.8" stroke="#666" stroke-width="1"/>
<line x1="342.8" y1="206.8" x2="406.5" y2="206.8" stroke="#555" stroke-width="1"/>
<line x1="341.2" y1="146.8" x2="342.8" y2="146.8" stroke="#555" stroke-width="0.8"/>
<text x="-0.21" y="0" font-size="3.6" transform="translate(338.8 148.95) rotate(-90)" fill="#8a8a8a" textLength="3.01" lengthAdjust="spacingAndGlyphs" stroke="#8a8a8a" stroke-width="0.1">10</text>
<text x="-0.09" y="0" font-size="2.6" transform="translate(337.1 145.75) rotate(-90)" fill="#8a8a8a" textLength="1.29" lengthAdjust="spacingAndGlyphs" stroke="#8a8a8a" stroke-width="0.1">5</text>
<line x1="341.2" y1="161.2" x2="342.8" y2="161.2" stroke="#555" stroke-width="0.8"/>
<text x="-0.21" y="0" font-size="3.6" transform="translate(338.8 163.35) rotate(-90)" fill="#8a8a8a" textLength="3.01" lengthAdjust="spacingAndGlyphs" stroke="#8a8a8a" stroke-width="0.1">10</text>
<text x="-0.05" y="0" font-size="2.6" transform="translate(337.1 160.15) rotate(-90)" fill="#8a8a8a" textLength="1.21" lengthAdjust="spacingAndGlyphs" stroke="#8a8a8a" stroke-width="0.1">4</text>
<line x1="341.2" y1="177" x2="342.8" y2="177" stroke="#555" stroke-width="0.8"/>
<text x="-0.21" y="0" font-size="3.6" transform="translate(338.8 179.15) rotate(-90)" fill="#8a8a8a" textLength="3.01" lengthAdjust="spacingAndGlyphs" stroke="#8a8a8a" stroke-width="0.1">10</text>
<text x="-0.09" y="0" font-size="2.6" transform="translate(337.1 175.95) rotate(-90)" fill="#8a8a8a" textLength="1.29" lengthAdjust="spacingAndGlyphs" stroke="#8a8a8a" stroke-width="0.1">3</text>
<line x1="341.2" y1="192" x2="342.8" y2="192" stroke="#555" stroke-width="0.8"/>
<text x="-0.21" y="0" font-size="3.6" transform="translate(338.8 194.15) rotate(-90)" fill="#8a8a8a" textLength="3.01" lengthAdjust="spacingAndGlyphs" stroke="#8a8a8a" stroke-width="0.1">10</text>
<text x="-0.12" y="0" font-size="2.6" transform="translate(337.1 190.95) rotate(-90)" fill="#8a8a8a" textLength="1.34" lengthAdjust="spacingAndGlyphs" stroke="#8a8a8a" stroke-width="0.1">2</text>
<line x1="341.2" y1="200.1" x2="342.8" y2="200.1" stroke="#555" stroke-width="0.8"/>
<text x="-0.12" y="0" font-size="3.4" transform="translate(338.8 200.85) rotate(-90)" fill="#8a8a8a" textLength="1.75" lengthAdjust="spacingAndGlyphs" stroke="#8a8a8a" stroke-width="0.1">0</text>
<line x1="347.6" y1="206.8" x2="347.6" y2="208.4" stroke="#555" stroke-width="0.8"/>
<text x="346.73" y="214.8" font-size="3.4" fill="#8a8a8a" textLength="1.75" lengthAdjust="spacingAndGlyphs" stroke="#8a8a8a" stroke-width="0.1" >0</text>
<line x1="356.7" y1="206.8" x2="356.7" y2="208.4" stroke="#555" stroke-width="0.8"/>
<text x="354.54" y="214.8" font-size="3.6" fill="#8a8a8a" textLength="3.01" lengthAdjust="spacingAndGlyphs" stroke="#8a8a8a" stroke-width="0.1" >10</text>
<text x="357.63" y="212.8" font-size="2.6" fill="#8a8a8a" textLength="1.34" lengthAdjust="spacingAndGlyphs" stroke="#8a8a8a" stroke-width="0.1" >2</text>
<line x1="371.8" y1="206.8" x2="371.8" y2="208.4" stroke="#555" stroke-width="0.8"/>
<text x="369.64" y="214.8" font-size="3.6" fill="#8a8a8a" textLength="3.01" lengthAdjust="spacingAndGlyphs" stroke="#8a8a8a" stroke-width="0.1" >10</text>
<text x="372.76" y="212.8" font-size="2.6" fill="#8a8a8a" textLength="1.29" lengthAdjust="spacingAndGlyphs" stroke="#8a8a8a" stroke-width="0.1" >3</text>
<line x1="387" y1="206.8" x2="387" y2="208.4" stroke="#555" stroke-width="0.8"/>
<text x="384.84" y="214.8" font-size="3.6" fill="#8a8a8a" textLength="3.01" lengthAdjust="spacingAndGlyphs" stroke="#8a8a8a" stroke-width="0.1" >10</text>
<text x="388" y="212.8" font-size="2.6" fill="#8a8a8a" textLength="1.21" lengthAdjust="spacingAndGlyphs" stroke="#8a8a8a" stroke-width="0.1" >4</text>
<line x1="401.4" y1="206.8" x2="401.4" y2="208.4" stroke="#555" stroke-width="0.8"/>
<text x="399.24" y="214.8" font-size="3.6" fill="#8a8a8a" textLength="3.01" lengthAdjust="spacingAndGlyphs" stroke="#8a8a8a" stroke-width="0.1" >10</text>
<text x="402.36" y="212.8" font-size="2.6" fill="#8a8a8a" textLength="1.29" lengthAdjust="spacingAndGlyphs" stroke="#8a8a8a" stroke-width="0.1" >5</text>
<rect x="366.1" y="150" width="26.3" height="24.2" fill="none" stroke="#aaa" stroke-width="0.8" />
<text x="384.6" y="146.9" font-size="7.4" fill="#333" textLength="13.48" lengthAdjust="spacingAndGlyphs" stroke="#333" stroke-width="0.1" >2.49</text>
<text x="392.2" y="199" font-size="3.2" fill="#444" >Dead</text>
<text x="392.2" y="203.5" font-size="3.2" fill="#444" >2.49%</text>
<line x1="420.5" y1="139.6" x2="485.7" y2="139.6" stroke="#8a8a8a" stroke-width="1"/>
<line x1="485.7" y1="139.6" x2="485.7" y2="207" stroke="#8a8a8a" stroke-width="1"/>
<line x1="420.5" y1="139.6" x2="420.5" y2="207" stroke="#666" stroke-width="1"/>
<line x1="420.5" y1="207" x2="485.7" y2="207" stroke="#555" stroke-width="1"/>
<line x1="418.9" y1="146.8" x2="420.5" y2="146.8" stroke="#555" stroke-width="0.8"/>
<text x="-0.21" y="0" font-size="3.6" transform="translate(416.5 148.95) rotate(-90)" fill="#8a8a8a" textLength="3.01" lengthAdjust="spacingAndGlyphs" stroke="#8a8a8a" stroke-width="0.1">10</text>
<text x="-0.09" y="0" font-size="2.6" transform="translate(414.8 145.75) rotate(-90)" fill="#8a8a8a" textLength="1.29" lengthAdjust="spacingAndGlyphs" stroke="#8a8a8a" stroke-width="0.1">5</text>
<line x1="418.9" y1="161.2" x2="420.5" y2="161.2" stroke="#555" stroke-width="0.8"/>
<text x="-0.21" y="0" font-size="3.6" transform="translate(416.5 163.35) rotate(-90)" fill="#8a8a8a" textLength="3.01" lengthAdjust="spacingAndGlyphs" stroke="#8a8a8a" stroke-width="0.1">10</text>
<text x="-0.05" y="0" font-size="2.6" transform="translate(414.8 160.15) rotate(-90)" fill="#8a8a8a" textLength="1.21" lengthAdjust="spacingAndGlyphs" stroke="#8a8a8a" stroke-width="0.1">4</text>
<line x1="418.9" y1="177" x2="420.5" y2="177" stroke="#555" stroke-width="0.8"/>
<text x="-0.21" y="0" font-size="3.6" transform="translate(416.5 179.15) rotate(-90)" fill="#8a8a8a" textLength="3.01" lengthAdjust="spacingAndGlyphs" stroke="#8a8a8a" stroke-width="0.1">10</text>
<text x="-0.09" y="0" font-size="2.6" transform="translate(414.8 175.95) rotate(-90)" fill="#8a8a8a" textLength="1.29" lengthAdjust="spacingAndGlyphs" stroke="#8a8a8a" stroke-width="0.1">3</text>
<line x1="418.9" y1="192" x2="420.5" y2="192" stroke="#555" stroke-width="0.8"/>
<text x="-0.21" y="0" font-size="3.6" transform="translate(416.5 194.15) rotate(-90)" fill="#8a8a8a" textLength="3.01" lengthAdjust="spacingAndGlyphs" stroke="#8a8a8a" stroke-width="0.1">10</text>
<text x="-0.12" y="0" font-size="2.6" transform="translate(414.8 190.95) rotate(-90)" fill="#8a8a8a" textLength="1.34" lengthAdjust="spacingAndGlyphs" stroke="#8a8a8a" stroke-width="0.1">2</text>
<line x1="418.9" y1="200.1" x2="420.5" y2="200.1" stroke="#555" stroke-width="0.8"/>
<text x="-0.12" y="0" font-size="3.4" transform="translate(416.5 200.85) rotate(-90)" fill="#8a8a8a" textLength="1.75" lengthAdjust="spacingAndGlyphs" stroke="#8a8a8a" stroke-width="0.1">0</text>
<line x1="425.3" y1="207" x2="425.3" y2="208.6" stroke="#555" stroke-width="0.8"/>
<text x="424.43" y="215" font-size="3.4" fill="#8a8a8a" textLength="1.75" lengthAdjust="spacingAndGlyphs" stroke="#8a8a8a" stroke-width="0.1" >0</text>
<line x1="434.4" y1="207" x2="434.4" y2="208.6" stroke="#555" stroke-width="0.8"/>
<text x="432.24" y="215" font-size="3.6" fill="#8a8a8a" textLength="3.01" lengthAdjust="spacingAndGlyphs" stroke="#8a8a8a" stroke-width="0.1" >10</text>
<text x="435.33" y="213" font-size="2.6" fill="#8a8a8a" textLength="1.34" lengthAdjust="spacingAndGlyphs" stroke="#8a8a8a" stroke-width="0.1" >2</text>
<line x1="449.5" y1="207" x2="449.5" y2="208.6" stroke="#555" stroke-width="0.8"/>
<text x="447.34" y="215" font-size="3.6" fill="#8a8a8a" textLength="3.01" lengthAdjust="spacingAndGlyphs" stroke="#8a8a8a" stroke-width="0.1" >10</text>
<text x="450.46" y="213" font-size="2.6" fill="#8a8a8a" textLength="1.29" lengthAdjust="spacingAndGlyphs" stroke="#8a8a8a" stroke-width="0.1" >3</text>
<line x1="464.7" y1="207" x2="464.7" y2="208.6" stroke="#555" stroke-width="0.8"/>
<text x="462.54" y="215" font-size="3.6" fill="#8a8a8a" textLength="3.01" lengthAdjust="spacingAndGlyphs" stroke="#8a8a8a" stroke-width="0.1" >10</text>
<text x="465.7" y="213" font-size="2.6" fill="#8a8a8a" textLength="1.21" lengthAdjust="spacingAndGlyphs" stroke="#8a8a8a" stroke-width="0.1" >4</text>
<line x1="479.1" y1="207" x2="479.1" y2="208.6" stroke="#555" stroke-width="0.8"/>
<text x="476.94" y="215" font-size="3.6" fill="#8a8a8a" textLength="3.01" lengthAdjust="spacingAndGlyphs" stroke="#8a8a8a" stroke-width="0.1" >10</text>
<text x="480.06" y="213" font-size="2.6" fill="#8a8a8a" textLength="1.29" lengthAdjust="spacingAndGlyphs" stroke="#8a8a8a" stroke-width="0.1" >5</text>
<rect x="443.2" y="150.3" width="27.7" height="23" fill="none" stroke="#aaa" stroke-width="0.8" />
<text x="460.62" y="148.7" font-size="7.2" fill="#333" textLength="13.54" lengthAdjust="spacingAndGlyphs" stroke="#333" stroke-width="0.1" >15.6</text>
<text x="468.6" y="195" font-size="3.2" fill="#444" >Dead</text>
<text x="468.6" y="199.5" font-size="3.2" fill="#444" >15.0%</text>
<defs><filter id="b06" x="-50%" y="-50%" width="200%" height="200%"><feGaussianBlur stdDeviation="0.6"/></filter><filter id="b10" x="-50%" y="-50%" width="200%" height="200%"><feGaussianBlur stdDeviation="1.0"/></filter><filter id="b15" x="-50%" y="-50%" width="200%" height="200%"><feGaussianBlur stdDeviation="1.5"/></filter><filter id="b20" x="-50%" y="-50%" width="200%" height="200%"><feGaussianBlur stdDeviation="2.0"/></filter><clipPath id="cE1"><rect x="343.3" y="139.9" width="62.7" height="66.4"/></clipPath><clipPath id="cE2"><rect x="421" y="140.1" width="64.2" height="66.4"/></clipPath></defs>
<g clip-path="url(#cE1)">
<polygon points="340,180 356,178.5 368,176 378,175.5 380,183 375,192.5 360,193.5 340,190" fill="#b4bcd9" fill-opacity="0.85" filter="url(#b10)"/>
<polygon points="357,190 377,187 373,198 360,197" fill="#cfd3e6" fill-opacity="0.6" filter="url(#b15)"/>
<polygon points="341,181 355,180.5 356,188 341,188.5" fill="#8e9ac6" fill-opacity="0.45" filter="url(#b15)"/>
<polygon points="355,180.5 366,177.5 376,177 378.5,181 376,188.5 369,191.5 359,190.5 354,187" fill="#6474aa" fill-opacity="0.8" filter="url(#b10)"/>
<ellipse cx="368.3" cy="183" rx="4.2" ry="4" fill="#6aa452" fill-opacity="0.85" filter="url(#b10)"/>
<circle cx="363.22" cy="182.41" r="0.4" fill="#8090c0" fill-opacity="0.55"/>
<circle cx="364.51" cy="185.07" r="0.4" fill="#2f3f80" fill-opacity="0.55"/>
<circle cx="369.35" cy="182.37" r="0.4" fill="#c0c8e0" fill-opacity="0.55"/>
<circle cx="365.19" cy="181.24" r="0.4" fill="#8090c0" fill-opacity="0.55"/>
<circle cx="358.82" cy="176.89" r="0.4" fill="#c0c8e0" fill-opacity="0.55"/>
<circle cx="366.35" cy="179.21" r="0.4" fill="#5060a0" fill-opacity="0.55"/>
<circle cx="361.42" cy="182.95" r="0.4" fill="#c0c8e0" fill-opacity="0.55"/>
<circle cx="362.58" cy="180.18" r="0.4" fill="#3a4c90" fill-opacity="0.55"/>
<circle cx="364.27" cy="182.61" r="0.4" fill="#2f3f80" fill-opacity="0.55"/>
<circle cx="355.91" cy="181.77" r="0.4" fill="#8090c0" fill-opacity="0.55"/>
<circle cx="364.56" cy="184.09" r="0.4" fill="#2f3f80" fill-opacity="0.55"/>
<circle cx="366.93" cy="183.74" r="0.4" fill="#8090c0" fill-opacity="0.55"/>
<circle cx="371.63" cy="177.16" r="0.4" fill="#c0c8e0" fill-opacity="0.55"/>
<circle cx="363.21" cy="184.73" r="0.4" fill="#c0c8e0" fill-opacity="0.55"/>
<circle cx="354.52" cy="183.16" r="0.4" fill="#2f3f80" fill-opacity="0.55"/>
<circle cx="361.41" cy="183.04" r="0.4" fill="#c0c8e0" fill-opacity="0.55"/>
<circle cx="368.92" cy="184.5" r="0.4" fill="#c0c8e0" fill-opacity="0.55"/>
<circle cx="365.02" cy="184.59" r="0.4" fill="#3a4c90" fill-opacity="0.55"/>
<circle cx="359.99" cy="180.88" r="0.4" fill="#8090c0" fill-opacity="0.55"/>
<circle cx="363.85" cy="187.56" r="0.4" fill="#5060a0" fill-opacity="0.55"/>
<circle cx="349.35" cy="180.78" r="0.4" fill="#8090c0" fill-opacity="0.55"/>
<circle cx="347.87" cy="183.48" r="0.4" fill="#8090c0" fill-opacity="0.55"/>
<circle cx="372.7" cy="176.98" r="0.4" fill="#8090c0" fill-opacity="0.55"/>
<circle cx="360.34" cy="178.8" r="0.4" fill="#c0c8e0" fill-opacity="0.55"/>
<circle cx="362.62" cy="181.89" r="0.4" fill="#8090c0" fill-opacity="0.55"/>
<circle cx="366.73" cy="182.47" r="0.4" fill="#2f3f80" fill-opacity="0.55"/>
<circle cx="357.1" cy="183.54" r="0.4" fill="#c0c8e0" fill-opacity="0.55"/>
<circle cx="371.59" cy="182.28" r="0.4" fill="#3a4c90" fill-opacity="0.55"/>
<circle cx="370.57" cy="187.28" r="0.4" fill="#3a4c90" fill-opacity="0.55"/>
<circle cx="359.52" cy="182.16" r="0.4" fill="#3a4c90" fill-opacity="0.55"/>
<circle cx="368.44" cy="180.5" r="0.4" fill="#5060a0" fill-opacity="0.55"/>
<circle cx="358.41" cy="178.31" r="0.4" fill="#c0c8e0" fill-opacity="0.55"/>
<circle cx="368.82" cy="180.34" r="0.4" fill="#5060a0" fill-opacity="0.55"/>
<circle cx="367.95" cy="181.85" r="0.4" fill="#5060a0" fill-opacity="0.55"/>
<circle cx="358.15" cy="183.88" r="0.4" fill="#3a4c90" fill-opacity="0.55"/>
<circle cx="359.99" cy="182.56" r="0.4" fill="#8090c0" fill-opacity="0.55"/>
<circle cx="364.51" cy="181.85" r="0.4" fill="#8090c0" fill-opacity="0.55"/>
<circle cx="362.78" cy="181.56" r="0.4" fill="#c0c8e0" fill-opacity="0.55"/>
<circle cx="369.65" cy="178.7" r="0.4" fill="#c0c8e0" fill-opacity="0.55"/>
<circle cx="382.56" cy="185.14" r="0.4" fill="#2f3f80" fill-opacity="0.55"/>
<circle cx="367.77" cy="181.12" r="0.4" fill="#2f3f80" fill-opacity="0.55"/>
<circle cx="359.76" cy="183.94" r="0.4" fill="#3a4c90" fill-opacity="0.55"/>
<circle cx="357.8" cy="179.33" r="0.4" fill="#2f3f80" fill-opacity="0.55"/>
<circle cx="375.37" cy="181.99" r="0.4" fill="#3a4c90" fill-opacity="0.55"/>
<circle cx="372" cy="180.2" r="0.4" fill="#3a4c90" fill-opacity="0.55"/>
<circle cx="367.6" cy="187.83" r="0.4" fill="#2f3f80" fill-opacity="0.55"/>
<circle cx="367.72" cy="182.14" r="0.4" fill="#2f3f80" fill-opacity="0.55"/>
<circle cx="361.56" cy="186.4" r="0.4" fill="#2f3f80" fill-opacity="0.55"/>
<circle cx="367.47" cy="185.09" r="0.4" fill="#5060a0" fill-opacity="0.55"/>
<circle cx="370.42" cy="184.24" r="0.4" fill="#5060a0" fill-opacity="0.55"/>
<circle cx="369.41" cy="183.62" r="0.4" fill="#8090c0" fill-opacity="0.55"/>
<circle cx="362.24" cy="184.33" r="0.4" fill="#c0c8e0" fill-opacity="0.55"/>
<circle cx="363.67" cy="180.02" r="0.4" fill="#3a4c90" fill-opacity="0.55"/>
<circle cx="361.09" cy="183.08" r="0.4" fill="#5060a0" fill-opacity="0.55"/>
<circle cx="369.67" cy="184.97" r="0.4" fill="#8090c0" fill-opacity="0.55"/>
<circle cx="373.97" cy="179.23" r="0.4" fill="#2f3f80" fill-opacity="0.55"/>
<circle cx="354.82" cy="182.69" r="0.4" fill="#5060a0" fill-opacity="0.55"/>
<circle cx="364.23" cy="180.99" r="0.4" fill="#5060a0" fill-opacity="0.55"/>
<circle cx="375.28" cy="188" r="0.4" fill="#5060a0" fill-opacity="0.55"/>
<circle cx="360.53" cy="180.21" r="0.4" fill="#2f3f80" fill-opacity="0.55"/>
<circle cx="360.43" cy="180.4" r="0.4" fill="#2f3f80" fill-opacity="0.55"/>
<circle cx="362.2" cy="179.07" r="0.4" fill="#c0c8e0" fill-opacity="0.55"/>
<circle cx="363.58" cy="179.18" r="0.4" fill="#3a4c90" fill-opacity="0.55"/>
<circle cx="369.43" cy="189.19" r="0.4" fill="#8090c0" fill-opacity="0.55"/>
<circle cx="373.95" cy="188.36" r="0.4" fill="#3a4c90" fill-opacity="0.55"/>
<circle cx="371.59" cy="181.44" r="0.4" fill="#c0c8e0" fill-opacity="0.55"/>
<circle cx="359.55" cy="184.72" r="0.4" fill="#3a4c90" fill-opacity="0.55"/>
<circle cx="358.99" cy="184.18" r="0.4" fill="#3a4c90" fill-opacity="0.55"/>
<circle cx="363.21" cy="182.13" r="0.4" fill="#3a4c90" fill-opacity="0.55"/>
<circle cx="364.21" cy="179.75" r="0.4" fill="#8090c0" fill-opacity="0.55"/>
<circle cx="361.01" cy="185.32" r="0.4" fill="#8090c0" fill-opacity="0.55"/>
<circle cx="367.07" cy="184.04" r="0.4" fill="#8090c0" fill-opacity="0.55"/>
<circle cx="359.48" cy="183.43" r="0.4" fill="#c0c8e0" fill-opacity="0.55"/>
<circle cx="360.72" cy="185.64" r="0.4" fill="#8090c0" fill-opacity="0.55"/>
<circle cx="353.65" cy="185.24" r="0.4" fill="#2f3f80" fill-opacity="0.55"/>
<circle cx="357" cy="188.14" r="0.4" fill="#2f3f80" fill-opacity="0.55"/>
<circle cx="368.65" cy="186.76" r="0.4" fill="#2f3f80" fill-opacity="0.55"/>
<circle cx="351.9" cy="180.91" r="0.4" fill="#2f3f80" fill-opacity="0.55"/>
<circle cx="365.55" cy="185.28" r="0.4" fill="#8090c0" fill-opacity="0.55"/>
<circle cx="361.13" cy="180.88" r="0.4" fill="#3a4c90" fill-opacity="0.55"/>
<circle cx="361.17" cy="182.58" r="0.4" fill="#8090c0" fill-opacity="0.55"/>
<circle cx="366.24" cy="179.91" r="0.4" fill="#3a4c90" fill-opacity="0.55"/>
<circle cx="360.33" cy="182.66" r="0.4" fill="#5060a0" fill-opacity="0.55"/>
<circle cx="360.59" cy="185.33" r="0.4" fill="#8090c0" fill-opacity="0.55"/>
<circle cx="375.36" cy="178.87" r="0.4" fill="#8090c0" fill-opacity="0.55"/>
<circle cx="358.75" cy="189.47" r="0.4" fill="#5060a0" fill-opacity="0.55"/>
<circle cx="353" cy="177.37" r="0.4" fill="#5060a0" fill-opacity="0.55"/>
<circle cx="371.06" cy="180.79" r="0.4" fill="#2f3f80" fill-opacity="0.55"/>
<circle cx="356.23" cy="180.63" r="0.4" fill="#2f3f80" fill-opacity="0.55"/>
<circle cx="371.87" cy="186.65" r="0.4" fill="#3a4c90" fill-opacity="0.55"/>
<circle cx="356.7" cy="183.69" r="0.4" fill="#8090c0" fill-opacity="0.55"/>
<circle cx="367.31" cy="188.47" r="0.4" fill="#3a4c90" fill-opacity="0.55"/>
<circle cx="370.88" cy="184.32" r="0.4" fill="#8090c0" fill-opacity="0.55"/>
<circle cx="367.74" cy="185.08" r="0.4" fill="#3a4c90" fill-opacity="0.55"/>
<circle cx="371.01" cy="187.5" r="0.4" fill="#c0c8e0" fill-opacity="0.55"/>
<circle cx="365.21" cy="183.18" r="0.4" fill="#c0c8e0" fill-opacity="0.55"/>
<circle cx="364.25" cy="184.7" r="0.4" fill="#c0c8e0" fill-opacity="0.55"/>
<circle cx="369.43" cy="183.82" r="0.4" fill="#5060a0" fill-opacity="0.55"/>
<circle cx="370.35" cy="180.14" r="0.4" fill="#3a4c90" fill-opacity="0.55"/>
<circle cx="374.03" cy="186.28" r="0.4" fill="#2f3f80" fill-opacity="0.55"/>
<circle cx="361.91" cy="178.69" r="0.4" fill="#5060a0" fill-opacity="0.55"/>
<circle cx="368.06" cy="183.47" r="0.4" fill="#2f3f80" fill-opacity="0.55"/>
<circle cx="368.14" cy="181.04" r="0.4" fill="#3a4c90" fill-opacity="0.55"/>
<circle cx="361.13" cy="183.64" r="0.4" fill="#2f3f80" fill-opacity="0.55"/>
<circle cx="354.27" cy="186.65" r="0.4" fill="#3a4c90" fill-opacity="0.55"/>
<circle cx="358.72" cy="185.64" r="0.4" fill="#2f3f80" fill-opacity="0.55"/>
<circle cx="357.89" cy="182.77" r="0.4" fill="#8090c0" fill-opacity="0.55"/>
<circle cx="361.74" cy="186.66" r="0.4" fill="#8090c0" fill-opacity="0.55"/>
<circle cx="357.88" cy="184.75" r="0.4" fill="#2f3f80" fill-opacity="0.55"/>
<circle cx="362.91" cy="180.68" r="0.4" fill="#5060a0" fill-opacity="0.55"/>
<circle cx="358.62" cy="184.42" r="0.4" fill="#8090c0" fill-opacity="0.55"/>
<circle cx="364.07" cy="183.72" r="0.4" fill="#3a4c90" fill-opacity="0.55"/>
<circle cx="363.69" cy="186.38" r="0.4" fill="#8090c0" fill-opacity="0.55"/>
<circle cx="360.55" cy="183.13" r="0.4" fill="#2f3f80" fill-opacity="0.55"/>
<circle cx="366.91" cy="186.18" r="0.4" fill="#3a4c90" fill-opacity="0.55"/>
<circle cx="361.85" cy="182.26" r="0.4" fill="#c0c8e0" fill-opacity="0.55"/>
<circle cx="367.42" cy="186.53" r="0.4" fill="#2f3f80" fill-opacity="0.55"/>
<circle cx="367.32" cy="180.94" r="0.4" fill="#5060a0" fill-opacity="0.55"/>
<circle cx="356.17" cy="186.06" r="0.4" fill="#2f3f80" fill-opacity="0.55"/>
<circle cx="364.11" cy="184.35" r="0.4" fill="#8090c0" fill-opacity="0.55"/>
<circle cx="379.35" cy="184.8" r="0.4" fill="#3a4c90" fill-opacity="0.55"/>
<circle cx="364.32" cy="186.47" r="0.4" fill="#3a4c90" fill-opacity="0.55"/>
<circle cx="368.27" cy="187.1" r="0.4" fill="#5060a0" fill-opacity="0.55"/>
<circle cx="370.88" cy="181.4" r="0.4" fill="#5060a0" fill-opacity="0.55"/>
<circle cx="362.34" cy="188.72" r="0.4" fill="#8090c0" fill-opacity="0.55"/>
<circle cx="367.74" cy="176.07" r="0.4" fill="#8090c0" fill-opacity="0.55"/>
<circle cx="364" cy="185.86" r="0.4" fill="#5060a0" fill-opacity="0.55"/>
<circle cx="360.2" cy="181.5" r="0.4" fill="#2f3f80" fill-opacity="0.55"/>
<circle cx="370.01" cy="184.62" r="0.4" fill="#2f3f80" fill-opacity="0.55"/>
<circle cx="363.57" cy="183.36" r="0.4" fill="#2f3f80" fill-opacity="0.55"/>
<circle cx="363.5" cy="182.97" r="0.4" fill="#c0c8e0" fill-opacity="0.55"/>
<circle cx="365.95" cy="183.73" r="0.4" fill="#c0c8e0" fill-opacity="0.55"/>
<circle cx="367.25" cy="182.32" r="0.4" fill="#8090c0" fill-opacity="0.55"/>
<circle cx="360.33" cy="186.39" r="0.4" fill="#5060a0" fill-opacity="0.55"/>
<circle cx="365.47" cy="183.21" r="0.4" fill="#5060a0" fill-opacity="0.55"/>
<circle cx="364.08" cy="179.26" r="0.4" fill="#8090c0" fill-opacity="0.55"/>
<circle cx="368.26" cy="184.81" r="0.4" fill="#8090c0" fill-opacity="0.55"/>
<circle cx="368.48" cy="185.47" r="0.4" fill="#5060a0" fill-opacity="0.55"/>
<circle cx="353.86" cy="182.32" r="0.4" fill="#8090c0" fill-opacity="0.55"/>
<circle cx="368.49" cy="187.88" r="0.4" fill="#8090c0" fill-opacity="0.55"/>
<circle cx="367.9" cy="180.23" r="0.4" fill="#3a4c90" fill-opacity="0.55"/>
<circle cx="359.96" cy="185.86" r="0.4" fill="#3a4c90" fill-opacity="0.55"/>
<circle cx="355.22" cy="185.1" r="0.4" fill="#5060a0" fill-opacity="0.55"/>
<circle cx="363.55" cy="185.32" r="0.4" fill="#c0c8e0" fill-opacity="0.55"/>
<circle cx="371.98" cy="181.14" r="0.4" fill="#8090c0" fill-opacity="0.55"/>
<circle cx="367.55" cy="183.99" r="0.4" fill="#2f3f80" fill-opacity="0.55"/>
<circle cx="365.16" cy="182.32" r="0.4" fill="#2f3f80" fill-opacity="0.55"/>
<circle cx="360.53" cy="187.18" r="0.4" fill="#2f3f80" fill-opacity="0.55"/>
<circle cx="372.8" cy="179.29" r="0.4" fill="#8090c0" fill-opacity="0.55"/>
<circle cx="352.18" cy="184.77" r="0.4" fill="#5060a0" fill-opacity="0.55"/>
<circle cx="364.35" cy="183.5" r="0.4" fill="#3a4c90" fill-opacity="0.55"/>
<circle cx="351.92" cy="187.93" r="0.4" fill="#2f3f80" fill-opacity="0.55"/>
<circle cx="361.27" cy="185.7" r="0.4" fill="#8090c0" fill-opacity="0.55"/>
<circle cx="371.59" cy="185.61" r="0.4" fill="#3a4c90" fill-opacity="0.55"/>
<circle cx="357.74" cy="175.84" r="0.4" fill="#3a4c90" fill-opacity="0.55"/>
<circle cx="363.21" cy="183.26" r="0.4" fill="#3a4c90" fill-opacity="0.55"/>
<circle cx="363.04" cy="185.5" r="0.4" fill="#c0c8e0" fill-opacity="0.55"/>
<circle cx="356.92" cy="183.15" r="0.4" fill="#c0c8e0" fill-opacity="0.55"/>
<circle cx="358.79" cy="189.14" r="0.4" fill="#3a4c90" fill-opacity="0.55"/>
<circle cx="355.8" cy="184.35" r="0.4" fill="#2f3f80" fill-opacity="0.55"/>
<circle cx="365.34" cy="182.2" r="0.4" fill="#2f3f80" fill-opacity="0.55"/>
<circle cx="365.75" cy="182.42" r="0.4" fill="#5060a0" fill-opacity="0.55"/>
<circle cx="369.76" cy="185.22" r="0.4" fill="#3a4c90" fill-opacity="0.55"/>
<circle cx="368.14" cy="179.47" r="0.4" fill="#2f3f80" fill-opacity="0.55"/>
<circle cx="357.61" cy="179.55" r="0.4" fill="#5060a0" fill-opacity="0.55"/>
<circle cx="356.77" cy="186.03" r="0.4" fill="#2f3f80" fill-opacity="0.55"/>
<circle cx="360.24" cy="190.48" r="0.4" fill="#8090c0" fill-opacity="0.55"/>
<circle cx="365.61" cy="181.63" r="0.4" fill="#c0c8e0" fill-opacity="0.55"/>
<circle cx="369.05" cy="183.62" r="0.4" fill="#2f3f80" fill-opacity="0.55"/>
<circle cx="361.87" cy="185.14" r="0.4" fill="#2f3f80" fill-opacity="0.55"/>
<circle cx="355.76" cy="182.75" r="0.4" fill="#606ea8" fill-opacity="0.55"/>
<circle cx="342.6" cy="186.18" r="0.4" fill="#9aa4cc" fill-opacity="0.55"/>
<circle cx="349.01" cy="189.27" r="0.4" fill="#7a86b8" fill-opacity="0.55"/>
<circle cx="346.29" cy="186.78" r="0.4" fill="#7a86b8" fill-opacity="0.55"/>
<circle cx="348.97" cy="186.71" r="0.4" fill="#9aa4cc" fill-opacity="0.55"/>
<circle cx="347.49" cy="179.46" r="0.4" fill="#d0d4e8" fill-opacity="0.55"/>
<circle cx="354.63" cy="183.21" r="0.4" fill="#d0d4e8" fill-opacity="0.55"/>
<circle cx="346.8" cy="185.7" r="0.4" fill="#d0d4e8" fill-opacity="0.55"/>
<circle cx="340.43" cy="184.93" r="0.4" fill="#d0d4e8" fill-opacity="0.55"/>
<circle cx="342.47" cy="185.14" r="0.4" fill="#7a86b8" fill-opacity="0.55"/>
<circle cx="345.95" cy="190.13" r="0.4" fill="#9aa4cc" fill-opacity="0.55"/>
<circle cx="349.93" cy="184.13" r="0.4" fill="#9aa4cc" fill-opacity="0.55"/>
<circle cx="347.34" cy="187.41" r="0.4" fill="#d0d4e8" fill-opacity="0.55"/>
<circle cx="357" cy="185.54" r="0.4" fill="#606ea8" fill-opacity="0.55"/>
<circle cx="347.62" cy="184.54" r="0.4" fill="#d0d4e8" fill-opacity="0.55"/>
<circle cx="348.59" cy="180.36" r="0.4" fill="#606ea8" fill-opacity="0.55"/>
<circle cx="352.38" cy="186.62" r="0.4" fill="#d0d4e8" fill-opacity="0.55"/>
<circle cx="345.82" cy="185.09" r="0.4" fill="#d0d4e8" fill-opacity="0.55"/>
<circle cx="349.62" cy="180.63" r="0.4" fill="#d0d4e8" fill-opacity="0.55"/>
<circle cx="359.14" cy="183.85" r="0.4" fill="#606ea8" fill-opacity="0.55"/>
<circle cx="353.97" cy="183.57" r="0.4" fill="#d0d4e8" fill-opacity="0.55"/>
<circle cx="331.14" cy="185.97" r="0.4" fill="#9aa4cc" fill-opacity="0.55"/>
<circle cx="342.78" cy="188.28" r="0.4" fill="#606ea8" fill-opacity="0.55"/>
<circle cx="353.75" cy="184.94" r="0.4" fill="#606ea8" fill-opacity="0.55"/>
<circle cx="350.48" cy="182.53" r="0.4" fill="#9aa4cc" fill-opacity="0.55"/>
<circle cx="354.48" cy="183.21" r="0.4" fill="#7a86b8" fill-opacity="0.55"/>
<circle cx="353.17" cy="186.76" r="0.4" fill="#7a86b8" fill-opacity="0.55"/>
<circle cx="349.81" cy="185.19" r="0.4" fill="#9aa4cc" fill-opacity="0.55"/>
<circle cx="357.83" cy="184.05" r="0.4" fill="#606ea8" fill-opacity="0.55"/>
<circle cx="357.7" cy="183.93" r="0.4" fill="#7a86b8" fill-opacity="0.55"/>
<circle cx="345.31" cy="184.61" r="0.4" fill="#606ea8" fill-opacity="0.55"/>
<circle cx="344.86" cy="185.44" r="0.4" fill="#7a86b8" fill-opacity="0.55"/>
<circle cx="341.73" cy="181.74" r="0.4" fill="#d0d4e8" fill-opacity="0.55"/>
<circle cx="347.58" cy="186.24" r="0.4" fill="#d0d4e8" fill-opacity="0.55"/>
<circle cx="345.62" cy="185.45" r="0.4" fill="#7a86b8" fill-opacity="0.55"/>
<circle cx="350.36" cy="184.63" r="0.4" fill="#9aa4cc" fill-opacity="0.55"/>
<circle cx="356.75" cy="182.13" r="0.4" fill="#9aa4cc" fill-opacity="0.55"/>
<circle cx="356.9" cy="183.31" r="0.4" fill="#d0d4e8" fill-opacity="0.55"/>
<circle cx="339.59" cy="184.24" r="0.4" fill="#9aa4cc" fill-opacity="0.55"/>
<circle cx="348.44" cy="185.99" r="0.4" fill="#7a86b8" fill-opacity="0.55"/>
<circle cx="347.24" cy="184.58" r="0.4" fill="#d0d4e8" fill-opacity="0.55"/>
<circle cx="341.75" cy="185.25" r="0.4" fill="#d0d4e8" fill-opacity="0.55"/>
<circle cx="344.13" cy="187.06" r="0.4" fill="#606ea8" fill-opacity="0.55"/>
<circle cx="352.1" cy="187.96" r="0.4" fill="#7a86b8" fill-opacity="0.55"/>
<circle cx="345.1" cy="185.77" r="0.4" fill="#d0d4e8" fill-opacity="0.55"/>
<circle cx="348.32" cy="186.39" r="0.4" fill="#606ea8" fill-opacity="0.55"/>
<circle cx="351.81" cy="184.13" r="0.4" fill="#606ea8" fill-opacity="0.55"/>
<circle cx="349.89" cy="185.03" r="0.4" fill="#d0d4e8" fill-opacity="0.55"/>
<circle cx="354.56" cy="180.73" r="0.4" fill="#606ea8" fill-opacity="0.55"/>
<circle cx="355.42" cy="185.12" r="0.4" fill="#7a86b8" fill-opacity="0.55"/>
<circle cx="344.96" cy="184.66" r="0.4" fill="#606ea8" fill-opacity="0.55"/>
<circle cx="354.94" cy="186.73" r="0.4" fill="#606ea8" fill-opacity="0.55"/>
<circle cx="354.65" cy="185.11" r="0.4" fill="#d0d4e8" fill-opacity="0.55"/>
<circle cx="352.81" cy="189.8" r="0.4" fill="#9aa4cc" fill-opacity="0.55"/>
<circle cx="342.23" cy="179.6" r="0.4" fill="#d0d4e8" fill-opacity="0.55"/>
<circle cx="347.39" cy="186.32" r="0.4" fill="#7a86b8" fill-opacity="0.55"/>
<circle cx="353.1" cy="183.74" r="0.4" fill="#d0d4e8" fill-opacity="0.55"/>
<circle cx="347.73" cy="184.27" r="0.4" fill="#d0d4e8" fill-opacity="0.55"/>
<circle cx="348.98" cy="191.5" r="0.4" fill="#7a86b8" fill-opacity="0.55"/>
<circle cx="336.47" cy="184.69" r="0.4" fill="#7a86b8" fill-opacity="0.55"/>
<circle cx="348.21" cy="183.33" r="0.4" fill="#7a86b8" fill-opacity="0.55"/>
<circle cx="342.73" cy="181.11" r="0.4" fill="#7a86b8" fill-opacity="0.55"/>
<circle cx="361.65" cy="182.09" r="0.4" fill="#7a86b8" fill-opacity="0.55"/>
<circle cx="335.94" cy="187.51" r="0.4" fill="#d0d4e8" fill-opacity="0.55"/>
<circle cx="348.3" cy="187.62" r="0.4" fill="#7a86b8" fill-opacity="0.55"/>
<circle cx="351.63" cy="187.07" r="0.4" fill="#9aa4cc" fill-opacity="0.55"/>
<circle cx="355.7" cy="188.77" r="0.4" fill="#9aa4cc" fill-opacity="0.55"/>
<circle cx="346.93" cy="181.89" r="0.4" fill="#d0d4e8" fill-opacity="0.55"/>
<circle cx="347.33" cy="183.4" r="0.4" fill="#7a86b8" fill-opacity="0.55"/>
<circle cx="351.98" cy="187.68" r="0.4" fill="#606ea8" fill-opacity="0.55"/>
<circle cx="369.82" cy="186.46" r="0.45" fill="#4a8a40" fill-opacity="0.6"/>
<circle cx="373.64" cy="184.54" r="0.45" fill="#3a6a70" fill-opacity="0.6"/>
<circle cx="369.15" cy="186.39" r="0.45" fill="#7ab860" fill-opacity="0.6"/>
<circle cx="363.28" cy="186.78" r="0.45" fill="#7ab860" fill-opacity="0.6"/>
<circle cx="369.16" cy="183.6" r="0.45" fill="#7ab860" fill-opacity="0.6"/>
<circle cx="369.73" cy="184.33" r="0.45" fill="#3a6a70" fill-opacity="0.6"/>
<circle cx="369.57" cy="183.61" r="0.45" fill="#7ab860" fill-opacity="0.6"/>
<circle cx="374.45" cy="182.89" r="0.45" fill="#4a8a40" fill-opacity="0.6"/>
<circle cx="370.84" cy="183.99" r="0.45" fill="#7ab860" fill-opacity="0.6"/>
<circle cx="371.69" cy="185.35" r="0.45" fill="#7ab860" fill-opacity="0.6"/>
<circle cx="370.31" cy="183.25" r="0.45" fill="#3a6a70" fill-opacity="0.6"/>
<circle cx="369.75" cy="181.28" r="0.45" fill="#7ab860" fill-opacity="0.6"/>
<circle cx="365.63" cy="183.56" r="0.45" fill="#7ab860" fill-opacity="0.6"/>
<circle cx="369.74" cy="184.78" r="0.45" fill="#7ab860" fill-opacity="0.6"/>
<circle cx="369.21" cy="185.56" r="0.45" fill="#3a6a70" fill-opacity="0.6"/>
<circle cx="369.1" cy="181.97" r="0.45" fill="#4a8a40" fill-opacity="0.6"/>
<circle cx="366.58" cy="186.5" r="0.45" fill="#4a8a40" fill-opacity="0.6"/>
<circle cx="374.06" cy="184.81" r="0.45" fill="#7ab860" fill-opacity="0.6"/>
<circle cx="367.26" cy="182.18" r="0.45" fill="#3a6a70" fill-opacity="0.6"/>
<circle cx="372.73" cy="183.35" r="0.45" fill="#7ab860" fill-opacity="0.6"/>
<circle cx="371.64" cy="182.84" r="0.45" fill="#3a6a70" fill-opacity="0.6"/>
<circle cx="367.72" cy="181.48" r="0.45" fill="#7ab860" fill-opacity="0.6"/>
<circle cx="366" cy="182.46" r="0.45" fill="#4a8a40" fill-opacity="0.6"/>
<circle cx="367" cy="182.24" r="0.45" fill="#7ab860" fill-opacity="0.6"/>
<circle cx="366.17" cy="182.92" r="0.45" fill="#7ab860" fill-opacity="0.6"/>
<circle cx="365.42" cy="181.31" r="0.45" fill="#3a6a70" fill-opacity="0.6"/>
<circle cx="372.33" cy="181.45" r="0.45" fill="#7ab860" fill-opacity="0.6"/>
<circle cx="366.92" cy="188.34" r="0.45" fill="#7ab860" fill-opacity="0.6"/>
<circle cx="369.53" cy="185.47" r="0.45" fill="#4a8a40" fill-opacity="0.6"/>
<circle cx="368.08" cy="181.18" r="0.45" fill="#3a6a70" fill-opacity="0.6"/>
<circle cx="354.19" cy="196.96" r="0.35" fill="#b6bcd8" fill-opacity="0.55"/>
<circle cx="362.57" cy="197.65" r="0.35" fill="#c0c0c0" fill-opacity="0.55"/>
<circle cx="376.33" cy="192.81" r="0.35" fill="#c0c0c0" fill-opacity="0.55"/>
<circle cx="365.67" cy="197.06" r="0.35" fill="#c0c0c0" fill-opacity="0.55"/>
<circle cx="346.11" cy="196.68" r="0.35" fill="#c0c0c0" fill-opacity="0.55"/>
<circle cx="378.75" cy="202.44" r="0.35" fill="#9aa4cc" fill-opacity="0.55"/>
<circle cx="353.69" cy="196.11" r="0.35" fill="#9aa4cc" fill-opacity="0.55"/>
<circle cx="384.23" cy="195.87" r="0.35" fill="#9aa4cc" fill-opacity="0.55"/>
<circle cx="346.27" cy="197.91" r="0.35" fill="#9aa4cc" fill-opacity="0.55"/>
<circle cx="361.67" cy="203.88" r="0.35" fill="#c0c0c0" fill-opacity="0.55"/>
<circle cx="366.98" cy="190.19" r="0.35" fill="#b6bcd8" fill-opacity="0.55"/>
<circle cx="364.72" cy="196.38" r="0.35" fill="#b6bcd8" fill-opacity="0.55"/>
<circle cx="381.22" cy="200.97" r="0.35" fill="#9aa4cc" fill-opacity="0.55"/>
<circle cx="367.96" cy="192.34" r="0.35" fill="#9aa4cc" fill-opacity="0.55"/>
<circle cx="344" cy="191.03" r="0.35" fill="#9aa4cc" fill-opacity="0.55"/>
<circle cx="349.72" cy="191.3" r="0.35" fill="#b6bcd8" fill-opacity="0.55"/>
<circle cx="361.84" cy="193.15" r="0.35" fill="#9aa4cc" fill-opacity="0.55"/>
<circle cx="366.09" cy="204.74" r="0.35" fill="#c0c0c0" fill-opacity="0.55"/>
<circle cx="362.22" cy="195.82" r="0.35" fill="#c0c0c0" fill-opacity="0.55"/>
<circle cx="378.35" cy="204.61" r="0.35" fill="#b6bcd8" fill-opacity="0.55"/>
<circle cx="357.91" cy="199.35" r="0.35" fill="#c0c0c0" fill-opacity="0.55"/>
<circle cx="380.08" cy="196.05" r="0.35" fill="#b6bcd8" fill-opacity="0.55"/>
<circle cx="349.7" cy="194.91" r="0.35" fill="#c0c0c0" fill-opacity="0.55"/>
<circle cx="351.79" cy="203.18" r="0.35" fill="#c0c0c0" fill-opacity="0.55"/>
<circle cx="380.18" cy="196.89" r="0.35" fill="#b6bcd8" fill-opacity="0.55"/>
<circle cx="359.7" cy="197.84" r="0.35" fill="#9aa4cc" fill-opacity="0.55"/>
<circle cx="363.38" cy="192.24" r="0.35" fill="#9aa4cc" fill-opacity="0.55"/>
<circle cx="364.98" cy="196.92" r="0.35" fill="#c0c0c0" fill-opacity="0.55"/>
<circle cx="382.94" cy="194.77" r="0.35" fill="#b6bcd8" fill-opacity="0.55"/>
<circle cx="347.98" cy="205.67" r="0.35" fill="#c0c0c0" fill-opacity="0.55"/>
<circle cx="379.99" cy="191.03" r="0.35" fill="#c0c0c0" fill-opacity="0.55"/>
<circle cx="384.66" cy="191.06" r="0.35" fill="#9aa4cc" fill-opacity="0.55"/>
<circle cx="357.3" cy="204.6" r="0.35" fill="#c0c0c0" fill-opacity="0.55"/>
<circle cx="380.67" cy="203.22" r="0.35" fill="#b6bcd8" fill-opacity="0.55"/>
<circle cx="370.41" cy="204.11" r="0.35" fill="#9aa4cc" fill-opacity="0.55"/>
<circle cx="380.25" cy="193.23" r="0.35" fill="#b6bcd8" fill-opacity="0.55"/>
<circle cx="383.28" cy="190.83" r="0.35" fill="#c0c0c0" fill-opacity="0.55"/>
<circle cx="345.09" cy="204.96" r="0.35" fill="#c0c0c0" fill-opacity="0.55"/>
<circle cx="353.82" cy="203.26" r="0.35" fill="#9aa4cc" fill-opacity="0.55"/>
<circle cx="353.52" cy="197.5" r="0.35" fill="#c0c0c0" fill-opacity="0.55"/>
<circle cx="360.24" cy="195.5" r="0.35" fill="#b6bcd8" fill-opacity="0.55"/>
<circle cx="371.12" cy="198.45" r="0.35" fill="#9aa4cc" fill-opacity="0.55"/>
<circle cx="367.5" cy="195.48" r="0.35" fill="#c0c0c0" fill-opacity="0.55"/>
<circle cx="349.45" cy="198.51" r="0.35" fill="#c0c0c0" fill-opacity="0.55"/>
<circle cx="365.24" cy="195.04" r="0.35" fill="#c0c0c0" fill-opacity="0.55"/>
<circle cx="379.16" cy="201.81" r="0.35" fill="#9aa4cc" fill-opacity="0.55"/>
<circle cx="362.33" cy="201.54" r="0.35" fill="#b6bcd8" fill-opacity="0.55"/>
<circle cx="369.81" cy="197.9" r="0.35" fill="#9aa4cc" fill-opacity="0.55"/>
<circle cx="351.53" cy="191.66" r="0.35" fill="#b6bcd8" fill-opacity="0.55"/>
<circle cx="348.91" cy="204.62" r="0.35" fill="#b6bcd8" fill-opacity="0.55"/>
<circle cx="378.53" cy="195.05" r="0.35" fill="#9aa4cc" fill-opacity="0.55"/>
<circle cx="357.41" cy="193.95" r="0.35" fill="#c0c0c0" fill-opacity="0.55"/>
<circle cx="378.15" cy="190.91" r="0.35" fill="#b6bcd8" fill-opacity="0.55"/>
<circle cx="359.04" cy="193.58" r="0.35" fill="#b6bcd8" fill-opacity="0.55"/>
<circle cx="354.28" cy="194.21" r="0.35" fill="#c0c0c0" fill-opacity="0.55"/>
<circle cx="383.59" cy="201.72" r="0.35" fill="#9aa4cc" fill-opacity="0.55"/>
<circle cx="353.04" cy="197.07" r="0.35" fill="#c0c0c0" fill-opacity="0.55"/>
<circle cx="350.9" cy="197.73" r="0.35" fill="#9aa4cc" fill-opacity="0.55"/>
<circle cx="352.83" cy="200.73" r="0.35" fill="#c0c0c0" fill-opacity="0.55"/>
<circle cx="353.53" cy="200.94" r="0.35" fill="#c0c0c0" fill-opacity="0.55"/>
<circle cx="360.16" cy="198.63" r="0.35" fill="#c0c0c0" fill-opacity="0.55"/>
<circle cx="351.27" cy="194.83" r="0.35" fill="#b6bcd8" fill-opacity="0.55"/>
<circle cx="346.3" cy="202.59" r="0.35" fill="#b6bcd8" fill-opacity="0.55"/>
<circle cx="364.1" cy="199.26" r="0.35" fill="#b6bcd8" fill-opacity="0.55"/>
<circle cx="365.31" cy="196.71" r="0.35" fill="#b6bcd8" fill-opacity="0.55"/>
<circle cx="353.1" cy="203.08" r="0.35" fill="#b6bcd8" fill-opacity="0.55"/>
<circle cx="358.18" cy="205.93" r="0.35" fill="#b6bcd8" fill-opacity="0.55"/>
<circle cx="375.08" cy="191.84" r="0.35" fill="#b6bcd8" fill-opacity="0.55"/>
<circle cx="357.89" cy="201.72" r="0.35" fill="#c0c0c0" fill-opacity="0.55"/>
<circle cx="357.17" cy="195.58" r="0.35" fill="#9aa4cc" fill-opacity="0.55"/>
<circle cx="386.72" cy="162.03" r="0.35" fill="#c8a0a0" fill-opacity="0.7"/>
<circle cx="371.34" cy="171.36" r="0.35" fill="#b8b8c8" fill-opacity="0.7"/>
<circle cx="378.84" cy="164.24" r="0.35" fill="#c8a0a0" fill-opacity="0.7"/>
<circle cx="372.47" cy="153.96" r="0.35" fill="#c8a0a0" fill-opacity="0.7"/>
<circle cx="381.04" cy="164.27" r="0.35" fill="#c8a0a0" fill-opacity="0.7"/>
<circle cx="387.46" cy="163.37" r="0.35" fill="#b8b8c8" fill-opacity="0.7"/>
<circle cx="386.39" cy="167.71" r="0.35" fill="#b8b8c8" fill-opacity="0.7"/>
<circle cx="388.32" cy="160.88" r="0.35" fill="#c8a0a0" fill-opacity="0.7"/>
<circle cx="384.17" cy="159.36" r="0.35" fill="#b8b8c8" fill-opacity="0.7"/>
<circle cx="376.14" cy="155.81" r="0.35" fill="#b8b8c8" fill-opacity="0.7"/>
<circle cx="383.35" cy="163.81" r="0.35" fill="#b8b8c8" fill-opacity="0.7"/>
<circle cx="383.69" cy="158.8" r="0.35" fill="#a0a0b0" fill-opacity="0.7"/>
<circle cx="375.03" cy="167.22" r="0.35" fill="#a0a0b0" fill-opacity="0.7"/>
<circle cx="379.91" cy="161.77" r="0.35" fill="#b8b8c8" fill-opacity="0.7"/>
<circle cx="380.16" cy="159.68" r="0.35" fill="#c8a0a0" fill-opacity="0.7"/>
<circle cx="369.21" cy="162.13" r="0.35" fill="#a0a0b0" fill-opacity="0.7"/>
<circle cx="371.65" cy="165.98" r="0.35" fill="#a0a0b0" fill-opacity="0.7"/>
<circle cx="370.22" cy="163.29" r="0.35" fill="#b8b8c8" fill-opacity="0.7"/>
<circle cx="387.11" cy="162.83" r="0.35" fill="#b8b8c8" fill-opacity="0.7"/>
<circle cx="374.03" cy="162.07" r="0.35" fill="#c8a0a0" fill-opacity="0.7"/>
<circle cx="374.91" cy="171.77" r="0.35" fill="#a0a0b0" fill-opacity="0.7"/>
<circle cx="372.66" cy="154.31" r="0.35" fill="#b8b8c8" fill-opacity="0.7"/>
<circle cx="377.55" cy="157.51" r="0.35" fill="#c8a0a0" fill-opacity="0.7"/>
<circle cx="372.09" cy="164" r="0.35" fill="#c8a0a0" fill-opacity="0.7"/>
<circle cx="388.84" cy="166.01" r="0.35" fill="#a0a0b0" fill-opacity="0.7"/>
<circle cx="389.68" cy="168.61" r="0.35" fill="#c8a0a0" fill-opacity="0.7"/>
<circle cx="375.55" cy="154.25" r="0.35" fill="#c8a0a0" fill-opacity="0.7"/>
<circle cx="370.98" cy="153.75" r="0.35" fill="#b8b8c8" fill-opacity="0.7"/>
<circle cx="375.35" cy="154.41" r="0.35" fill="#a0a0b0" fill-opacity="0.7"/>
<circle cx="371.64" cy="166.01" r="0.35" fill="#b8b8c8" fill-opacity="0.7"/>
</g>
<g clip-path="url(#cE2)">
<polygon points="418,178 430,176 440,173 453,172 457,176 456,188 452,196 444,199 430,197 418,196" fill="#b8bfdc" fill-opacity="0.6" filter="url(#b15)"/>
<polygon points="419,194 440,193 456,190 455,206 419,207" fill="#cdd1e6" fill-opacity="0.55" filter="url(#b20)"/>
<polygon points="434,178 442,175 452,173.5 455,177 453.5,186 448,190.5 440,190.5 434,187" fill="#6072ac" fill-opacity="0.62" filter="url(#b15)"/>
<ellipse cx="445.5" cy="180.8" rx="3.4" ry="3.0" fill="#6aa452" fill-opacity="0.8" filter="url(#b10)"/>
<path d="M449 176 L459 152 M452 174 L464 153" stroke="#d8ccd8" stroke-width="0.5" stroke-opacity="0.35" fill="none"/>
<ellipse cx="461.7" cy="169" rx="2.3" ry="2.8" fill="#44706a" fill-opacity="0.85" filter="url(#b06)"/>
<ellipse cx="461.9" cy="169.4" rx="1.0" ry="1.2" fill="#6a9a60" fill-opacity="0.5" filter="url(#b06)"/>
<circle cx="446.01" cy="181.93" r="0.4" fill="#8090c0" fill-opacity="0.5"/>
<circle cx="441.71" cy="176.67" r="0.4" fill="#c8cce0" fill-opacity="0.5"/>
<circle cx="429.83" cy="185.57" r="0.4" fill="#5060a0" fill-opacity="0.5"/>
<circle cx="440.32" cy="185.44" r="0.4" fill="#8090c0" fill-opacity="0.5"/>
<circle cx="443.08" cy="182.94" r="0.4" fill="#8090c0" fill-opacity="0.5"/>
<circle cx="438.72" cy="179.6" r="0.4" fill="#3a4c90" fill-opacity="0.5"/>
<circle cx="423.45" cy="181.66" r="0.4" fill="#5060a0" fill-opacity="0.5"/>
<circle cx="441.53" cy="188.32" r="0.4" fill="#c8cce0" fill-opacity="0.5"/>
<circle cx="441.54" cy="171.86" r="0.4" fill="#3a4c90" fill-opacity="0.5"/>
<circle cx="445.87" cy="184.13" r="0.4" fill="#2f3f80" fill-opacity="0.5"/>
<circle cx="429.77" cy="182.71" r="0.4" fill="#3a4c90" fill-opacity="0.5"/>
<circle cx="447.05" cy="184.73" r="0.4" fill="#c8cce0" fill-opacity="0.5"/>
<circle cx="441.3" cy="178.54" r="0.4" fill="#2f3f80" fill-opacity="0.5"/>
<circle cx="430.97" cy="175.4" r="0.4" fill="#3a4c90" fill-opacity="0.5"/>
<circle cx="451.58" cy="185.93" r="0.4" fill="#c8cce0" fill-opacity="0.5"/>
<circle cx="435.6" cy="185.15" r="0.4" fill="#c8cce0" fill-opacity="0.5"/>
<circle cx="437.63" cy="182.99" r="0.4" fill="#2f3f80" fill-opacity="0.5"/>
<circle cx="452.28" cy="184.9" r="0.4" fill="#8090c0" fill-opacity="0.5"/>
<circle cx="442.92" cy="183.02" r="0.4" fill="#c8cce0" fill-opacity="0.5"/>
<circle cx="439.89" cy="173.56" r="0.4" fill="#5060a0" fill-opacity="0.5"/>
<circle cx="452.84" cy="186.83" r="0.4" fill="#8090c0" fill-opacity="0.5"/>
<circle cx="451.26" cy="182.41" r="0.4" fill="#5060a0" fill-opacity="0.5"/>
<circle cx="436.36" cy="178.52" r="0.4" fill="#3a4c90" fill-opacity="0.5"/>
<circle cx="444.14" cy="178.06" r="0.4" fill="#3a4c90" fill-opacity="0.5"/>
<circle cx="446.1" cy="185.76" r="0.4" fill="#8090c0" fill-opacity="0.5"/>
<circle cx="438.07" cy="187.38" r="0.4" fill="#c8cce0" fill-opacity="0.5"/>
<circle cx="439.19" cy="179.09" r="0.4" fill="#2f3f80" fill-opacity="0.5"/>
<circle cx="443.72" cy="182.16" r="0.4" fill="#5060a0" fill-opacity="0.5"/>
<circle cx="443.38" cy="186.88" r="0.4" fill="#c8cce0" fill-opacity="0.5"/>
<circle cx="440.78" cy="189.59" r="0.4" fill="#c8cce0" fill-opacity="0.5"/>
<circle cx="430.23" cy="188.53" r="0.4" fill="#3a4c90" fill-opacity="0.5"/>
<circle cx="434.16" cy="181.36" r="0.4" fill="#5060a0" fill-opacity="0.5"/>
<circle cx="443.45" cy="179.32" r="0.4" fill="#8090c0" fill-opacity="0.5"/>
<circle cx="438.56" cy="182" r="0.4" fill="#c8cce0" fill-opacity="0.5"/>
<circle cx="445.93" cy="181.04" r="0.4" fill="#c8cce0" fill-opacity="0.5"/>
<circle cx="462.62" cy="194.55" r="0.4" fill="#3a4c90" fill-opacity="0.5"/>
<circle cx="443.38" cy="187.44" r="0.4" fill="#5060a0" fill-opacity="0.5"/>
<circle cx="448.35" cy="185.68" r="0.4" fill="#8090c0" fill-opacity="0.5"/>
<circle cx="445.99" cy="175.01" r="0.4" fill="#8090c0" fill-opacity="0.5"/>
<circle cx="443.61" cy="182.12" r="0.4" fill="#c8cce0" fill-opacity="0.5"/>
<circle cx="453.77" cy="182.21" r="0.4" fill="#8090c0" fill-opacity="0.5"/>
<circle cx="443.95" cy="181.21" r="0.4" fill="#5060a0" fill-opacity="0.5"/>
<circle cx="439.14" cy="186.79" r="0.4" fill="#5060a0" fill-opacity="0.5"/>
<circle cx="444.42" cy="174.04" r="0.4" fill="#5060a0" fill-opacity="0.5"/>
<circle cx="439.73" cy="180.62" r="0.4" fill="#2f3f80" fill-opacity="0.5"/>
<circle cx="450.57" cy="186.46" r="0.4" fill="#3a4c90" fill-opacity="0.5"/>
<circle cx="452.73" cy="185.72" r="0.4" fill="#c8cce0" fill-opacity="0.5"/>
<circle cx="441.88" cy="174.79" r="0.4" fill="#3a4c90" fill-opacity="0.5"/>
<circle cx="439.87" cy="180.63" r="0.4" fill="#5060a0" fill-opacity="0.5"/>
<circle cx="422.86" cy="181.1" r="0.4" fill="#2f3f80" fill-opacity="0.5"/>
<circle cx="434.89" cy="182.11" r="0.4" fill="#8090c0" fill-opacity="0.5"/>
<circle cx="449.02" cy="179.89" r="0.4" fill="#5060a0" fill-opacity="0.5"/>
<circle cx="435.07" cy="180.34" r="0.4" fill="#8090c0" fill-opacity="0.5"/>
<circle cx="432.21" cy="190.84" r="0.4" fill="#5060a0" fill-opacity="0.5"/>
<circle cx="437.8" cy="188.92" r="0.4" fill="#5060a0" fill-opacity="0.5"/>
<circle cx="444.85" cy="174.73" r="0.4" fill="#3a4c90" fill-opacity="0.5"/>
<circle cx="435.19" cy="187.09" r="0.4" fill="#8090c0" fill-opacity="0.5"/>
<circle cx="450.22" cy="180.63" r="0.4" fill="#3a4c90" fill-opacity="0.5"/>
<circle cx="440.08" cy="176.02" r="0.4" fill="#3a4c90" fill-opacity="0.5"/>
<circle cx="444.37" cy="181.98" r="0.4" fill="#8090c0" fill-opacity="0.5"/>
<circle cx="442.25" cy="184.84" r="0.4" fill="#2f3f80" fill-opacity="0.5"/>
<circle cx="432.59" cy="173.8" r="0.4" fill="#8090c0" fill-opacity="0.5"/>
<circle cx="441.49" cy="191.33" r="0.4" fill="#c8cce0" fill-opacity="0.5"/>
<circle cx="435.54" cy="179.96" r="0.4" fill="#2f3f80" fill-opacity="0.5"/>
<circle cx="432.9" cy="188.23" r="0.4" fill="#8090c0" fill-opacity="0.5"/>
<circle cx="434.1" cy="187.47" r="0.4" fill="#5060a0" fill-opacity="0.5"/>
<circle cx="437.97" cy="181.6" r="0.4" fill="#3a4c90" fill-opacity="0.5"/>
<circle cx="442.18" cy="180.88" r="0.4" fill="#8090c0" fill-opacity="0.5"/>
<circle cx="441.51" cy="179.91" r="0.4" fill="#8090c0" fill-opacity="0.5"/>
<circle cx="434.75" cy="182.6" r="0.4" fill="#c8cce0" fill-opacity="0.5"/>
<circle cx="432.36" cy="179.77" r="0.4" fill="#8090c0" fill-opacity="0.5"/>
<circle cx="433.46" cy="185.97" r="0.4" fill="#3a4c90" fill-opacity="0.5"/>
<circle cx="446.24" cy="180.49" r="0.4" fill="#2f3f80" fill-opacity="0.5"/>
<circle cx="446.05" cy="181.69" r="0.4" fill="#c8cce0" fill-opacity="0.5"/>
<circle cx="445.09" cy="180.64" r="0.4" fill="#c8cce0" fill-opacity="0.5"/>
<circle cx="445.72" cy="191.83" r="0.4" fill="#c8cce0" fill-opacity="0.5"/>
<circle cx="452.03" cy="174.27" r="0.4" fill="#8090c0" fill-opacity="0.5"/>
<circle cx="446.39" cy="181.87" r="0.4" fill="#8090c0" fill-opacity="0.5"/>
<circle cx="431.48" cy="182.09" r="0.4" fill="#c8cce0" fill-opacity="0.5"/>
<circle cx="447.17" cy="180.5" r="0.4" fill="#2f3f80" fill-opacity="0.5"/>
<circle cx="436.21" cy="179.78" r="0.4" fill="#c8cce0" fill-opacity="0.5"/>
<circle cx="426.6" cy="190.09" r="0.4" fill="#5060a0" fill-opacity="0.5"/>
<circle cx="443.62" cy="184.91" r="0.4" fill="#8090c0" fill-opacity="0.5"/>
<circle cx="442.2" cy="185.18" r="0.4" fill="#5060a0" fill-opacity="0.5"/>
<circle cx="444.09" cy="191.6" r="0.4" fill="#5060a0" fill-opacity="0.5"/>
<circle cx="429.93" cy="179.21" r="0.4" fill="#c8cce0" fill-opacity="0.5"/>
<circle cx="445.21" cy="189.02" r="0.4" fill="#2f3f80" fill-opacity="0.5"/>
<circle cx="435.7" cy="181.82" r="0.4" fill="#3a4c90" fill-opacity="0.5"/>
<circle cx="453.48" cy="178.96" r="0.4" fill="#c8cce0" fill-opacity="0.5"/>
<circle cx="447.14" cy="183.47" r="0.4" fill="#3a4c90" fill-opacity="0.5"/>
<circle cx="440.25" cy="186" r="0.4" fill="#3a4c90" fill-opacity="0.5"/>
<circle cx="455.76" cy="176.41" r="0.4" fill="#c8cce0" fill-opacity="0.5"/>
<circle cx="443.61" cy="177.14" r="0.4" fill="#5060a0" fill-opacity="0.5"/>
<circle cx="457.26" cy="185.38" r="0.4" fill="#5060a0" fill-opacity="0.5"/>
<circle cx="429.59" cy="178.01" r="0.4" fill="#c8cce0" fill-opacity="0.5"/>
<circle cx="447.19" cy="191.69" r="0.4" fill="#5060a0" fill-opacity="0.5"/>
<circle cx="440.11" cy="183.57" r="0.4" fill="#8090c0" fill-opacity="0.5"/>
<circle cx="448.07" cy="179.3" r="0.4" fill="#5060a0" fill-opacity="0.5"/>
<circle cx="445.63" cy="174.49" r="0.4" fill="#3a4c90" fill-opacity="0.5"/>
<circle cx="441.98" cy="184.32" r="0.4" fill="#c8cce0" fill-opacity="0.5"/>
<circle cx="445.33" cy="183.93" r="0.4" fill="#5060a0" fill-opacity="0.5"/>
<circle cx="439.46" cy="184.28" r="0.4" fill="#5060a0" fill-opacity="0.5"/>
<circle cx="454.46" cy="184.3" r="0.4" fill="#c8cce0" fill-opacity="0.5"/>
<circle cx="434.61" cy="180.77" r="0.4" fill="#5060a0" fill-opacity="0.5"/>
<circle cx="440.58" cy="181.69" r="0.4" fill="#8090c0" fill-opacity="0.5"/>
<circle cx="443.44" cy="177.25" r="0.4" fill="#3a4c90" fill-opacity="0.5"/>
<circle cx="438.22" cy="182.25" r="0.4" fill="#3a4c90" fill-opacity="0.5"/>
<circle cx="431.96" cy="188.46" r="0.4" fill="#5060a0" fill-opacity="0.5"/>
<circle cx="435.32" cy="185.65" r="0.4" fill="#8090c0" fill-opacity="0.5"/>
<circle cx="436.97" cy="185.01" r="0.4" fill="#5060a0" fill-opacity="0.5"/>
<circle cx="439.99" cy="171.58" r="0.4" fill="#5060a0" fill-opacity="0.5"/>
<circle cx="433.3" cy="182.69" r="0.4" fill="#8090c0" fill-opacity="0.5"/>
<circle cx="444.94" cy="182.11" r="0.4" fill="#5060a0" fill-opacity="0.5"/>
<circle cx="450.27" cy="193.69" r="0.4" fill="#2f3f80" fill-opacity="0.5"/>
<circle cx="439.51" cy="179.66" r="0.4" fill="#5060a0" fill-opacity="0.5"/>
<circle cx="439.22" cy="185.93" r="0.4" fill="#2f3f80" fill-opacity="0.5"/>
<circle cx="449.69" cy="174.63" r="0.4" fill="#2f3f80" fill-opacity="0.5"/>
<circle cx="444.46" cy="181.81" r="0.4" fill="#8090c0" fill-opacity="0.5"/>
<circle cx="447.46" cy="187.54" r="0.4" fill="#c8cce0" fill-opacity="0.5"/>
<circle cx="430.19" cy="184.23" r="0.4" fill="#2f3f80" fill-opacity="0.5"/>
<circle cx="453.27" cy="181.96" r="0.4" fill="#c8cce0" fill-opacity="0.5"/>
<circle cx="441.8" cy="179.84" r="0.4" fill="#2f3f80" fill-opacity="0.5"/>
<circle cx="439.46" cy="179.39" r="0.4" fill="#2f3f80" fill-opacity="0.5"/>
<circle cx="439.89" cy="188.51" r="0.4" fill="#2f3f80" fill-opacity="0.5"/>
<circle cx="442.73" cy="180.64" r="0.4" fill="#8090c0" fill-opacity="0.5"/>
<circle cx="450.72" cy="183.26" r="0.4" fill="#3a4c90" fill-opacity="0.5"/>
<circle cx="438.25" cy="186.33" r="0.4" fill="#c8cce0" fill-opacity="0.5"/>
<circle cx="439.81" cy="185.74" r="0.4" fill="#2f3f80" fill-opacity="0.5"/>
<circle cx="449.43" cy="176.6" r="0.4" fill="#2f3f80" fill-opacity="0.5"/>
<circle cx="444.06" cy="187.85" r="0.4" fill="#3a4c90" fill-opacity="0.5"/>
<circle cx="439.91" cy="178.03" r="0.4" fill="#c8cce0" fill-opacity="0.5"/>
<circle cx="430.95" cy="181.08" r="0.4" fill="#3a4c90" fill-opacity="0.5"/>
<circle cx="429.86" cy="175.18" r="0.4" fill="#5060a0" fill-opacity="0.5"/>
<circle cx="445.87" cy="179.17" r="0.4" fill="#3a4c90" fill-opacity="0.5"/>
<circle cx="442.5" cy="176.36" r="0.4" fill="#5060a0" fill-opacity="0.5"/>
<circle cx="435.1" cy="183.7" r="0.4" fill="#c8cce0" fill-opacity="0.5"/>
<circle cx="449.76" cy="178.94" r="0.4" fill="#5060a0" fill-opacity="0.5"/>
<circle cx="435.4" cy="188.57" r="0.4" fill="#3a4c90" fill-opacity="0.5"/>
<circle cx="441.16" cy="183.69" r="0.4" fill="#8090c0" fill-opacity="0.5"/>
<circle cx="440.72" cy="176.01" r="0.4" fill="#8090c0" fill-opacity="0.5"/>
<circle cx="450.75" cy="180.85" r="0.4" fill="#3a4c90" fill-opacity="0.5"/>
<circle cx="451.26" cy="179.01" r="0.4" fill="#2f3f80" fill-opacity="0.5"/>
<circle cx="436.24" cy="179.46" r="0.4" fill="#2f3f80" fill-opacity="0.5"/>
<circle cx="437.11" cy="177.97" r="0.4" fill="#c8cce0" fill-opacity="0.5"/>
<circle cx="441.82" cy="191.44" r="0.4" fill="#c8cce0" fill-opacity="0.5"/>
<circle cx="433.37" cy="181.25" r="0.4" fill="#3a4c90" fill-opacity="0.5"/>
<circle cx="457.52" cy="168.73" r="0.4" fill="#2f3f80" fill-opacity="0.5"/>
<circle cx="443.7" cy="180.58" r="0.4" fill="#8090c0" fill-opacity="0.5"/>
<circle cx="443.54" cy="177.58" r="0.4" fill="#3a4c90" fill-opacity="0.5"/>
<circle cx="443.72" cy="185.36" r="0.4" fill="#3a4c90" fill-opacity="0.5"/>
<circle cx="457.83" cy="179.54" r="0.4" fill="#5060a0" fill-opacity="0.5"/>
<circle cx="446.69" cy="182.01" r="0.4" fill="#3a4c90" fill-opacity="0.5"/>
<circle cx="438.09" cy="179.65" r="0.4" fill="#c8cce0" fill-opacity="0.5"/>
<circle cx="447.28" cy="184.92" r="0.4" fill="#3a4c90" fill-opacity="0.5"/>
<circle cx="446.31" cy="175.81" r="0.4" fill="#2f3f80" fill-opacity="0.5"/>
<circle cx="439.11" cy="185.4" r="0.4" fill="#c8cce0" fill-opacity="0.5"/>
<circle cx="454.73" cy="184.2" r="0.4" fill="#5060a0" fill-opacity="0.5"/>
<circle cx="442.97" cy="179.24" r="0.4" fill="#8090c0" fill-opacity="0.5"/>
<circle cx="434.43" cy="179.32" r="0.4" fill="#c8cce0" fill-opacity="0.5"/>
<circle cx="436.5" cy="182.5" r="0.4" fill="#3a4c90" fill-opacity="0.5"/>
<circle cx="435.26" cy="180.6" r="0.4" fill="#c8cce0" fill-opacity="0.5"/>
<circle cx="454.45" cy="185.75" r="0.4" fill="#3a4c90" fill-opacity="0.5"/>
<circle cx="446.27" cy="182.62" r="0.4" fill="#2f3f80" fill-opacity="0.5"/>
<circle cx="445.41" cy="185.77" r="0.4" fill="#3a4c90" fill-opacity="0.5"/>
<circle cx="433.15" cy="182.79" r="0.4" fill="#c8cce0" fill-opacity="0.5"/>
<circle cx="453.57" cy="184.85" r="0.4" fill="#3a4c90" fill-opacity="0.5"/>
<circle cx="439.16" cy="178.44" r="0.4" fill="#c8cce0" fill-opacity="0.5"/>
<circle cx="440.73" cy="185.32" r="0.4" fill="#5060a0" fill-opacity="0.5"/>
<circle cx="438.26" cy="180.78" r="0.4" fill="#8090c0" fill-opacity="0.5"/>
<circle cx="438.32" cy="177.98" r="0.4" fill="#8090c0" fill-opacity="0.5"/>
<circle cx="454.65" cy="177.88" r="0.4" fill="#c8cce0" fill-opacity="0.5"/>
<circle cx="456.68" cy="186.89" r="0.4" fill="#8090c0" fill-opacity="0.5"/>
<circle cx="440.68" cy="184.17" r="0.4" fill="#3a4c90" fill-opacity="0.5"/>
<circle cx="455.06" cy="180.15" r="0.4" fill="#8090c0" fill-opacity="0.5"/>
<circle cx="441.72" cy="177.48" r="0.4" fill="#8090c0" fill-opacity="0.5"/>
<circle cx="442.69" cy="175.16" r="0.4" fill="#8090c0" fill-opacity="0.5"/>
<circle cx="447.68" cy="182.93" r="0.4" fill="#5060a0" fill-opacity="0.5"/>
<circle cx="448.62" cy="190.98" r="0.4" fill="#5060a0" fill-opacity="0.5"/>
<circle cx="450.93" cy="176.92" r="0.4" fill="#3a4c90" fill-opacity="0.5"/>
<circle cx="439.66" cy="178.02" r="0.4" fill="#c8cce0" fill-opacity="0.5"/>
<circle cx="444" cy="192.98" r="0.4" fill="#8090c0" fill-opacity="0.5"/>
<circle cx="437.19" cy="185.08" r="0.4" fill="#c8cce0" fill-opacity="0.5"/>
<circle cx="445.86" cy="185.6" r="0.4" fill="#2f3f80" fill-opacity="0.5"/>
<circle cx="442.14" cy="184.63" r="0.4" fill="#5060a0" fill-opacity="0.5"/>
<circle cx="445.3" cy="187.5" r="0.4" fill="#8090c0" fill-opacity="0.5"/>
<circle cx="454.56" cy="181.04" r="0.4" fill="#c8cce0" fill-opacity="0.5"/>
<circle cx="429" cy="177.28" r="0.4" fill="#3a4c90" fill-opacity="0.5"/>
<circle cx="442.06" cy="177.42" r="0.4" fill="#5060a0" fill-opacity="0.5"/>
<circle cx="454.64" cy="181.56" r="0.4" fill="#8090c0" fill-opacity="0.5"/>
<circle cx="448.11" cy="184.4" r="0.4" fill="#2f3f80" fill-opacity="0.5"/>
<circle cx="445.08" cy="189.34" r="0.4" fill="#c8cce0" fill-opacity="0.5"/>
<circle cx="433.39" cy="188.08" r="0.4" fill="#5060a0" fill-opacity="0.5"/>
<circle cx="436.69" cy="191.22" r="0.4" fill="#8090c0" fill-opacity="0.5"/>
<circle cx="434.1" cy="175.86" r="0.4" fill="#3a4c90" fill-opacity="0.5"/>
<circle cx="436.36" cy="177.75" r="0.4" fill="#5060a0" fill-opacity="0.5"/>
<circle cx="448.59" cy="181.64" r="0.4" fill="#c8cce0" fill-opacity="0.5"/>
<circle cx="442.33" cy="178.37" r="0.4" fill="#3a4c90" fill-opacity="0.5"/>
<circle cx="446.03" cy="188.49" r="0.4" fill="#8090c0" fill-opacity="0.5"/>
<circle cx="439.02" cy="179.45" r="0.4" fill="#3a4c90" fill-opacity="0.5"/>
<circle cx="434.83" cy="181.37" r="0.4" fill="#c8cce0" fill-opacity="0.5"/>
<circle cx="441.52" cy="185.37" r="0.4" fill="#2f3f80" fill-opacity="0.5"/>
<circle cx="445.62" cy="181.76" r="0.4" fill="#c8cce0" fill-opacity="0.5"/>
<circle cx="443.43" cy="181.76" r="0.4" fill="#c8cce0" fill-opacity="0.5"/>
<circle cx="429.56" cy="186.54" r="0.4" fill="#c8cce0" fill-opacity="0.5"/>
<circle cx="425.06" cy="178.93" r="0.4" fill="#5060a0" fill-opacity="0.5"/>
<circle cx="439.16" cy="180.41" r="0.4" fill="#c8cce0" fill-opacity="0.5"/>
<circle cx="453.17" cy="189.32" r="0.4" fill="#3a4c90" fill-opacity="0.5"/>
<circle cx="444.86" cy="177.21" r="0.4" fill="#8090c0" fill-opacity="0.5"/>
<circle cx="441.61" cy="185.33" r="0.4" fill="#c8cce0" fill-opacity="0.5"/>
<circle cx="443.12" cy="174.43" r="0.4" fill="#2f3f80" fill-opacity="0.5"/>
<circle cx="444.43" cy="185.95" r="0.4" fill="#c8cce0" fill-opacity="0.5"/>
<circle cx="434.88" cy="173.96" r="0.4" fill="#c8cce0" fill-opacity="0.5"/>
<circle cx="428.19" cy="186.44" r="0.4" fill="#c8cce0" fill-opacity="0.5"/>
<circle cx="436.01" cy="184.92" r="0.4" fill="#5060a0" fill-opacity="0.5"/>
<circle cx="432.16" cy="189.57" r="0.4" fill="#8090c0" fill-opacity="0.5"/>
<circle cx="447.16" cy="178.04" r="0.4" fill="#3a4c90" fill-opacity="0.5"/>
<circle cx="447.17" cy="183.48" r="0.4" fill="#2f3f80" fill-opacity="0.5"/>
<circle cx="441.73" cy="183.68" r="0.4" fill="#3a4c90" fill-opacity="0.5"/>
<circle cx="436.14" cy="179.77" r="0.4" fill="#3a4c90" fill-opacity="0.5"/>
<circle cx="432.75" cy="178.98" r="0.4" fill="#5060a0" fill-opacity="0.5"/>
<circle cx="443.57" cy="180.93" r="0.4" fill="#2f3f80" fill-opacity="0.5"/>
<circle cx="442.43" cy="181.95" r="0.4" fill="#3a4c90" fill-opacity="0.5"/>
<circle cx="434.26" cy="177.37" r="0.4" fill="#2f3f80" fill-opacity="0.5"/>
<circle cx="443.4" cy="184.61" r="0.4" fill="#2f3f80" fill-opacity="0.5"/>
<circle cx="452.07" cy="192.81" r="0.4" fill="#8090c0" fill-opacity="0.5"/>
<circle cx="445.48" cy="182.31" r="0.4" fill="#5060a0" fill-opacity="0.5"/>
<circle cx="445.5" cy="189.61" r="0.4" fill="#8090c0" fill-opacity="0.5"/>
<circle cx="442.68" cy="179.88" r="0.4" fill="#2f3f80" fill-opacity="0.5"/>
<circle cx="439.21" cy="176.47" r="0.4" fill="#5060a0" fill-opacity="0.5"/>
<circle cx="435.26" cy="174.26" r="0.4" fill="#3a4c90" fill-opacity="0.5"/>
<circle cx="444.7" cy="181.06" r="0.45" fill="#7ab860" fill-opacity="0.6"/>
<circle cx="447.57" cy="181.71" r="0.45" fill="#3a6a70" fill-opacity="0.6"/>
<circle cx="446.34" cy="181.89" r="0.45" fill="#3a6a70" fill-opacity="0.6"/>
<circle cx="443.47" cy="180.97" r="0.45" fill="#3a6a70" fill-opacity="0.6"/>
<circle cx="449.24" cy="182.15" r="0.45" fill="#3a6a70" fill-opacity="0.6"/>
<circle cx="444.57" cy="183.36" r="0.45" fill="#4a8a40" fill-opacity="0.6"/>
<circle cx="444.75" cy="179.98" r="0.45" fill="#3a6a70" fill-opacity="0.6"/>
<circle cx="446.45" cy="180.94" r="0.45" fill="#4a8a40" fill-opacity="0.6"/>
<circle cx="448.34" cy="178.34" r="0.45" fill="#4a8a40" fill-opacity="0.6"/>
<circle cx="441.66" cy="179.56" r="0.45" fill="#3a6a70" fill-opacity="0.6"/>
<circle cx="446.33" cy="183.82" r="0.45" fill="#4a8a40" fill-opacity="0.6"/>
<circle cx="444.91" cy="182.66" r="0.45" fill="#3a6a70" fill-opacity="0.6"/>
<circle cx="444.51" cy="181.02" r="0.45" fill="#3a6a70" fill-opacity="0.6"/>
<circle cx="443.58" cy="179.06" r="0.45" fill="#4a8a40" fill-opacity="0.6"/>
<circle cx="446.12" cy="184.51" r="0.45" fill="#3a6a70" fill-opacity="0.6"/>
<circle cx="445.39" cy="181.73" r="0.45" fill="#7ab860" fill-opacity="0.6"/>
<circle cx="447.45" cy="181.1" r="0.45" fill="#4a8a40" fill-opacity="0.6"/>
<circle cx="441.64" cy="179.81" r="0.45" fill="#4a8a40" fill-opacity="0.6"/>
<circle cx="449.4" cy="182.99" r="0.45" fill="#4a8a40" fill-opacity="0.6"/>
<circle cx="445.96" cy="179.76" r="0.45" fill="#7ab860" fill-opacity="0.6"/>
<circle cx="462.86" cy="165.98" r="0.4" fill="#3a5a80" fill-opacity="0.7"/>
<circle cx="459.42" cy="169.52" r="0.4" fill="#3a5a80" fill-opacity="0.7"/>
<circle cx="464.6" cy="170.82" r="0.4" fill="#3a5a80" fill-opacity="0.7"/>
<circle cx="461.25" cy="168.65" r="0.4" fill="#3a5a80" fill-opacity="0.7"/>
<circle cx="461.47" cy="169.62" r="0.4" fill="#3a5a80" fill-opacity="0.7"/>
<circle cx="463.88" cy="171.44" r="0.4" fill="#a0b0c0" fill-opacity="0.7"/>
<circle cx="459.7" cy="166.41" r="0.4" fill="#a0b0c0" fill-opacity="0.7"/>
<circle cx="461.38" cy="167.27" r="0.4" fill="#3a5a80" fill-opacity="0.7"/>
<circle cx="460.1" cy="171.89" r="0.4" fill="#3a5a80" fill-opacity="0.7"/>
<circle cx="462.4" cy="171.83" r="0.4" fill="#3a5a80" fill-opacity="0.7"/>
<circle cx="461.96" cy="167.51" r="0.4" fill="#a0b0c0" fill-opacity="0.7"/>
<circle cx="462.35" cy="170.15" r="0.4" fill="#4a7a60" fill-opacity="0.7"/>
<circle cx="459.91" cy="169.14" r="0.4" fill="#2a4a60" fill-opacity="0.7"/>
<circle cx="458.76" cy="171.95" r="0.4" fill="#3a5a80" fill-opacity="0.7"/>
<circle cx="461.29" cy="167.92" r="0.4" fill="#a0b0c0" fill-opacity="0.7"/>
<circle cx="459.55" cy="169.6" r="0.4" fill="#3a5a80" fill-opacity="0.7"/>
<circle cx="462.46" cy="165.84" r="0.4" fill="#4a7a60" fill-opacity="0.7"/>
<circle cx="463" cy="171.24" r="0.4" fill="#2a4a60" fill-opacity="0.7"/>
<circle cx="461.8" cy="171.13" r="0.4" fill="#a0b0c0" fill-opacity="0.7"/>
<circle cx="460.07" cy="171.02" r="0.4" fill="#a0b0c0" fill-opacity="0.7"/>
<circle cx="461.62" cy="166.84" r="0.4" fill="#3a5a80" fill-opacity="0.7"/>
<circle cx="463.54" cy="168.79" r="0.4" fill="#3a5a80" fill-opacity="0.7"/>
<circle cx="464.16" cy="170.59" r="0.4" fill="#3a5a80" fill-opacity="0.7"/>
<circle cx="462.14" cy="168.5" r="0.4" fill="#a0b0c0" fill-opacity="0.7"/>
<circle cx="460.8" cy="168.11" r="0.4" fill="#a0b0c0" fill-opacity="0.7"/>
<circle cx="460.11" cy="175.26" r="0.4" fill="#a0b0c0" fill-opacity="0.7"/>
<circle cx="462.94" cy="166.58" r="0.4" fill="#a0b0c0" fill-opacity="0.7"/>
<circle cx="462.08" cy="169.73" r="0.4" fill="#a0b0c0" fill-opacity="0.7"/>
<circle cx="461.48" cy="167.79" r="0.4" fill="#a0b0c0" fill-opacity="0.7"/>
<circle cx="460.97" cy="171.81" r="0.4" fill="#3a5a80" fill-opacity="0.7"/>
<circle cx="446.43" cy="194.67" r="0.35" fill="#a8b0d8" fill-opacity="0.55"/>
<circle cx="443.32" cy="193" r="0.35" fill="#8a96c8" fill-opacity="0.55"/>
<circle cx="423.51" cy="196.58" r="0.35" fill="#6070a8" fill-opacity="0.55"/>
<circle cx="444.05" cy="196" r="0.35" fill="#6070a8" fill-opacity="0.55"/>
<circle cx="450.23" cy="192.46" r="0.35" fill="#8a96c8" fill-opacity="0.55"/>
<circle cx="435.56" cy="203.9" r="0.35" fill="#6070a8" fill-opacity="0.55"/>
<circle cx="425.78" cy="192.84" r="0.35" fill="#a8b0d8" fill-opacity="0.55"/>
<circle cx="445.19" cy="191.81" r="0.35" fill="#b0b0c0" fill-opacity="0.55"/>
<circle cx="454.7" cy="204.56" r="0.35" fill="#b0b0c0" fill-opacity="0.55"/>
<circle cx="444.52" cy="194.95" r="0.35" fill="#8a96c8" fill-opacity="0.55"/>
<circle cx="445.37" cy="199.39" r="0.35" fill="#6070a8" fill-opacity="0.55"/>
<circle cx="433.86" cy="190.04" r="0.35" fill="#6070a8" fill-opacity="0.55"/>
<circle cx="447.68" cy="205.66" r="0.35" fill="#8a96c8" fill-opacity="0.55"/>
<circle cx="453.68" cy="205.07" r="0.35" fill="#8a96c8" fill-opacity="0.55"/>
<circle cx="424.97" cy="203.08" r="0.35" fill="#6070a8" fill-opacity="0.55"/>
<circle cx="424.5" cy="200.07" r="0.35" fill="#8a96c8" fill-opacity="0.55"/>
<circle cx="435.56" cy="190.3" r="0.35" fill="#6070a8" fill-opacity="0.55"/>
<circle cx="455.26" cy="204.36" r="0.35" fill="#a8b0d8" fill-opacity="0.55"/>
<circle cx="445.99" cy="193.96" r="0.35" fill="#6070a8" fill-opacity="0.55"/>
<circle cx="449.28" cy="191.53" r="0.35" fill="#8a96c8" fill-opacity="0.55"/>
<circle cx="453.19" cy="193.96" r="0.35" fill="#8a96c8" fill-opacity="0.55"/>
<circle cx="430.89" cy="195.17" r="0.35" fill="#6070a8" fill-opacity="0.55"/>
<circle cx="450.42" cy="190.74" r="0.35" fill="#a8b0d8" fill-opacity="0.55"/>
<circle cx="456.1" cy="195.45" r="0.35" fill="#6070a8" fill-opacity="0.55"/>
<circle cx="445.55" cy="201.24" r="0.35" fill="#6070a8" fill-opacity="0.55"/>
<circle cx="428.26" cy="203.38" r="0.35" fill="#b0b0c0" fill-opacity="0.55"/>
<circle cx="428.17" cy="205.19" r="0.35" fill="#b0b0c0" fill-opacity="0.55"/>
<circle cx="435.43" cy="195.33" r="0.35" fill="#8a96c8" fill-opacity="0.55"/>
<circle cx="454.67" cy="192.86" r="0.35" fill="#8a96c8" fill-opacity="0.55"/>
<circle cx="434.32" cy="192.82" r="0.35" fill="#a8b0d8" fill-opacity="0.55"/>
<circle cx="425.37" cy="205.33" r="0.35" fill="#6070a8" fill-opacity="0.55"/>
<circle cx="441.97" cy="200" r="0.35" fill="#b0b0c0" fill-opacity="0.55"/>
<circle cx="440.09" cy="196.36" r="0.35" fill="#a8b0d8" fill-opacity="0.55"/>
<circle cx="425.74" cy="191.17" r="0.35" fill="#a8b0d8" fill-opacity="0.55"/>
<circle cx="431.06" cy="204.6" r="0.35" fill="#a8b0d8" fill-opacity="0.55"/>
<circle cx="428.24" cy="205.61" r="0.35" fill="#8a96c8" fill-opacity="0.55"/>
<circle cx="447.31" cy="203.81" r="0.35" fill="#a8b0d8" fill-opacity="0.55"/>
<circle cx="434.37" cy="205.81" r="0.35" fill="#a8b0d8" fill-opacity="0.55"/>
<circle cx="424.73" cy="203.63" r="0.35" fill="#6070a8" fill-opacity="0.55"/>
<circle cx="447.86" cy="193.93" r="0.35" fill="#b0b0c0" fill-opacity="0.55"/>
<circle cx="455.49" cy="190.76" r="0.35" fill="#6070a8" fill-opacity="0.55"/>
<circle cx="457.85" cy="195.93" r="0.35" fill="#b0b0c0" fill-opacity="0.55"/>
<circle cx="434.12" cy="199.2" r="0.35" fill="#8a96c8" fill-opacity="0.55"/>
<circle cx="452.91" cy="201.31" r="0.35" fill="#a8b0d8" fill-opacity="0.55"/>
<circle cx="447.13" cy="194.17" r="0.35" fill="#6070a8" fill-opacity="0.55"/>
<circle cx="430.13" cy="197.15" r="0.35" fill="#a8b0d8" fill-opacity="0.55"/>
<circle cx="446.93" cy="205.5" r="0.35" fill="#8a96c8" fill-opacity="0.55"/>
<circle cx="439.15" cy="191.87" r="0.35" fill="#6070a8" fill-opacity="0.55"/>
<circle cx="446.33" cy="195.43" r="0.35" fill="#a8b0d8" fill-opacity="0.55"/>
<circle cx="423.81" cy="190.98" r="0.35" fill="#b0b0c0" fill-opacity="0.55"/>
<circle cx="422.11" cy="193.76" r="0.35" fill="#b0b0c0" fill-opacity="0.55"/>
<circle cx="454.29" cy="192.86" r="0.35" fill="#6070a8" fill-opacity="0.55"/>
<circle cx="446.38" cy="205.87" r="0.35" fill="#b0b0c0" fill-opacity="0.55"/>
<circle cx="440.81" cy="195.84" r="0.35" fill="#a8b0d8" fill-opacity="0.55"/>
<circle cx="447.17" cy="204.02" r="0.35" fill="#6070a8" fill-opacity="0.55"/>
<circle cx="454.34" cy="191.29" r="0.35" fill="#6070a8" fill-opacity="0.55"/>
<circle cx="430.39" cy="205.67" r="0.35" fill="#8a96c8" fill-opacity="0.55"/>
<circle cx="431.21" cy="205.96" r="0.35" fill="#8a96c8" fill-opacity="0.55"/>
<circle cx="452.44" cy="198.24" r="0.35" fill="#6070a8" fill-opacity="0.55"/>
<circle cx="437.81" cy="203.74" r="0.35" fill="#b0b0c0" fill-opacity="0.55"/>
<circle cx="429.52" cy="196.39" r="0.35" fill="#8a96c8" fill-opacity="0.55"/>
<circle cx="454.4" cy="191.9" r="0.35" fill="#6070a8" fill-opacity="0.55"/>
<circle cx="425.17" cy="198.44" r="0.35" fill="#a8b0d8" fill-opacity="0.55"/>
<circle cx="447.99" cy="192.57" r="0.35" fill="#6070a8" fill-opacity="0.55"/>
<circle cx="430.67" cy="195.26" r="0.35" fill="#6070a8" fill-opacity="0.55"/>
<circle cx="447.21" cy="190.91" r="0.35" fill="#a8b0d8" fill-opacity="0.55"/>
<circle cx="422.38" cy="203.3" r="0.35" fill="#b0b0c0" fill-opacity="0.55"/>
<circle cx="432.18" cy="205.23" r="0.35" fill="#a8b0d8" fill-opacity="0.55"/>
<circle cx="454.57" cy="195.63" r="0.35" fill="#a8b0d8" fill-opacity="0.55"/>
<circle cx="448.62" cy="192.77" r="0.35" fill="#a8b0d8" fill-opacity="0.55"/>
<circle cx="443.88" cy="191.2" r="0.35" fill="#8a96c8" fill-opacity="0.55"/>
<circle cx="437.95" cy="205.36" r="0.35" fill="#6070a8" fill-opacity="0.55"/>
<circle cx="430.65" cy="195.24" r="0.35" fill="#b0b0c0" fill-opacity="0.55"/>
<circle cx="440.53" cy="190.41" r="0.35" fill="#a8b0d8" fill-opacity="0.55"/>
<circle cx="442.17" cy="203.01" r="0.35" fill="#6070a8" fill-opacity="0.55"/>
<circle cx="443.66" cy="200.35" r="0.35" fill="#8a96c8" fill-opacity="0.55"/>
<circle cx="448.83" cy="197.97" r="0.35" fill="#b0b0c0" fill-opacity="0.55"/>
<circle cx="428.02" cy="195.4" r="0.35" fill="#8a96c8" fill-opacity="0.55"/>
<circle cx="434.62" cy="190.39" r="0.35" fill="#6070a8" fill-opacity="0.55"/>
<circle cx="441.17" cy="195.01" r="0.35" fill="#8a96c8" fill-opacity="0.55"/>
<circle cx="423.06" cy="198.79" r="0.35" fill="#a8b0d8" fill-opacity="0.55"/>
<circle cx="449.43" cy="198.46" r="0.35" fill="#b0b0c0" fill-opacity="0.55"/>
<circle cx="438.01" cy="194.7" r="0.35" fill="#6070a8" fill-opacity="0.55"/>
<circle cx="425.04" cy="194.48" r="0.35" fill="#8a96c8" fill-opacity="0.55"/>
<circle cx="434.87" cy="194.43" r="0.35" fill="#a8b0d8" fill-opacity="0.55"/>
<circle cx="455.85" cy="200.43" r="0.35" fill="#a8b0d8" fill-opacity="0.55"/>
<circle cx="453.58" cy="197.62" r="0.35" fill="#b0b0c0" fill-opacity="0.55"/>
<circle cx="424.26" cy="190.24" r="0.35" fill="#6070a8" fill-opacity="0.55"/>
<circle cx="443.52" cy="194.51" r="0.35" fill="#6070a8" fill-opacity="0.55"/>
<circle cx="447.15" cy="196.03" r="0.35" fill="#b0b0c0" fill-opacity="0.55"/>
<circle cx="438.36" cy="200.16" r="0.35" fill="#8a96c8" fill-opacity="0.55"/>
<circle cx="452.11" cy="196.78" r="0.35" fill="#8a96c8" fill-opacity="0.55"/>
<circle cx="428.61" cy="193.98" r="0.35" fill="#b0b0c0" fill-opacity="0.55"/>
<circle cx="434.58" cy="193.08" r="0.35" fill="#b0b0c0" fill-opacity="0.55"/>
<circle cx="440.08" cy="202.25" r="0.35" fill="#b0b0c0" fill-opacity="0.55"/>
<circle cx="434.64" cy="195.16" r="0.35" fill="#a8b0d8" fill-opacity="0.55"/>
<circle cx="422.25" cy="190.29" r="0.35" fill="#6070a8" fill-opacity="0.55"/>
<circle cx="425.21" cy="199.45" r="0.35" fill="#b0b0c0" fill-opacity="0.55"/>
<circle cx="451.88" cy="196.92" r="0.35" fill="#8a96c8" fill-opacity="0.55"/>
<circle cx="426.72" cy="201.14" r="0.35" fill="#b0b0c0" fill-opacity="0.55"/>
<circle cx="451.68" cy="192.81" r="0.35" fill="#a8b0d8" fill-opacity="0.55"/>
<circle cx="454.7" cy="202.59" r="0.35" fill="#a8b0d8" fill-opacity="0.55"/>
<circle cx="442" cy="200.81" r="0.35" fill="#6070a8" fill-opacity="0.55"/>
<circle cx="432.95" cy="193.33" r="0.35" fill="#b0b0c0" fill-opacity="0.55"/>
<circle cx="443.23" cy="195.65" r="0.35" fill="#b0b0c0" fill-opacity="0.55"/>
<circle cx="446.73" cy="198.56" r="0.35" fill="#a8b0d8" fill-opacity="0.55"/>
<circle cx="435.48" cy="195.8" r="0.35" fill="#b0b0c0" fill-opacity="0.55"/>
<circle cx="454.53" cy="200.01" r="0.35" fill="#b0b0c0" fill-opacity="0.55"/>
<circle cx="448.39" cy="196.7" r="0.35" fill="#b0b0c0" fill-opacity="0.55"/>
<circle cx="438.7" cy="201.15" r="0.35" fill="#8a96c8" fill-opacity="0.55"/>
<circle cx="424.94" cy="190.23" r="0.35" fill="#6070a8" fill-opacity="0.55"/>
<circle cx="438.28" cy="203.61" r="0.35" fill="#6070a8" fill-opacity="0.55"/>
<circle cx="434.84" cy="204.8" r="0.35" fill="#b0b0c0" fill-opacity="0.55"/>
<circle cx="423.13" cy="194.09" r="0.35" fill="#8a96c8" fill-opacity="0.55"/>
<circle cx="423.8" cy="190.76" r="0.35" fill="#b0b0c0" fill-opacity="0.55"/>
<circle cx="435.46" cy="198.48" r="0.35" fill="#b0b0c0" fill-opacity="0.55"/>
<circle cx="422.16" cy="203.38" r="0.35" fill="#a8b0d8" fill-opacity="0.55"/>
<circle cx="433.16" cy="200.01" r="0.35" fill="#b0b0c0" fill-opacity="0.55"/>
<circle cx="455.02" cy="199.01" r="0.35" fill="#a8b0d8" fill-opacity="0.55"/>
<circle cx="443.68" cy="195.13" r="0.35" fill="#b0b0c0" fill-opacity="0.55"/>
<circle cx="449.97" cy="193.22" r="0.35" fill="#6070a8" fill-opacity="0.55"/>
<circle cx="455.93" cy="193.79" r="0.35" fill="#a8b0d8" fill-opacity="0.55"/>
<circle cx="440.1" cy="202.63" r="0.35" fill="#a8b0d8" fill-opacity="0.55"/>
<circle cx="426.67" cy="202.41" r="0.35" fill="#b0b0c0" fill-opacity="0.55"/>
<circle cx="448.4" cy="197.31" r="0.35" fill="#a8b0d8" fill-opacity="0.55"/>
<circle cx="440.3" cy="197.56" r="0.35" fill="#8a96c8" fill-opacity="0.55"/>
<circle cx="437.14" cy="196.05" r="0.35" fill="#6070a8" fill-opacity="0.55"/>
<circle cx="432.46" cy="190.72" r="0.35" fill="#8a96c8" fill-opacity="0.55"/>
<circle cx="454.07" cy="191.2" r="0.35" fill="#a8b0d8" fill-opacity="0.55"/>
<circle cx="448.78" cy="204.34" r="0.35" fill="#6070a8" fill-opacity="0.55"/>
<circle cx="426.81" cy="196.17" r="0.35" fill="#8a96c8" fill-opacity="0.55"/>
<circle cx="451.52" cy="201.37" r="0.35" fill="#6070a8" fill-opacity="0.55"/>
<circle cx="454.94" cy="196.87" r="0.35" fill="#8a96c8" fill-opacity="0.55"/>
<circle cx="443.52" cy="191.93" r="0.35" fill="#b0b0c0" fill-opacity="0.55"/>
<circle cx="444.62" cy="195.73" r="0.35" fill="#a8b0d8" fill-opacity="0.55"/>
<circle cx="446.5" cy="198.96" r="0.35" fill="#8a96c8" fill-opacity="0.55"/>
<circle cx="439.11" cy="198.86" r="0.35" fill="#6070a8" fill-opacity="0.55"/>
<circle cx="455.49" cy="200.11" r="0.35" fill="#8a96c8" fill-opacity="0.55"/>
<circle cx="451.29" cy="190.04" r="0.35" fill="#b0b0c0" fill-opacity="0.55"/>
<circle cx="433.97" cy="200.06" r="0.35" fill="#6070a8" fill-opacity="0.55"/>
<circle cx="456.53" cy="164.31" r="0.35" fill="#a0a8d0" fill-opacity="0.6"/>
<circle cx="450.61" cy="168.33" r="0.35" fill="#8a90c0" fill-opacity="0.6"/>
<circle cx="454.78" cy="163.38" r="0.35" fill="#a0a8d0" fill-opacity="0.6"/>
<circle cx="447.13" cy="173.34" r="0.35" fill="#8a90c0" fill-opacity="0.6"/>
<circle cx="455.21" cy="165.85" r="0.35" fill="#a0a8d0" fill-opacity="0.6"/>
<circle cx="453.38" cy="171.48" r="0.35" fill="#a0a8d0" fill-opacity="0.6"/>
<circle cx="457.99" cy="154.57" r="0.35" fill="#a0a8d0" fill-opacity="0.6"/>
<circle cx="456.01" cy="162.44" r="0.35" fill="#a0a8d0" fill-opacity="0.6"/>
<circle cx="447.17" cy="168.98" r="0.35" fill="#a0a8d0" fill-opacity="0.6"/>
<circle cx="452.84" cy="165.25" r="0.35" fill="#a0a8d0" fill-opacity="0.6"/>
<circle cx="452.68" cy="163.53" r="0.35" fill="#b090b0" fill-opacity="0.6"/>
<circle cx="450.87" cy="173.88" r="0.35" fill="#8a90c0" fill-opacity="0.6"/>
<circle cx="449.59" cy="170.58" r="0.35" fill="#8a90c0" fill-opacity="0.6"/>
<circle cx="454.18" cy="170.02" r="0.35" fill="#b090b0" fill-opacity="0.6"/>
<circle cx="447.88" cy="170.53" r="0.35" fill="#b090b0" fill-opacity="0.6"/>
<circle cx="456.29" cy="166.16" r="0.35" fill="#a0a8d0" fill-opacity="0.6"/>
<circle cx="457.24" cy="162.43" r="0.35" fill="#b090b0" fill-opacity="0.6"/>
<circle cx="454.55" cy="158.8" r="0.35" fill="#a0a8d0" fill-opacity="0.6"/>
<circle cx="461.28" cy="156.23" r="0.35" fill="#a0a8d0" fill-opacity="0.6"/>
<circle cx="463.84" cy="159.48" r="0.35" fill="#b090b0" fill-opacity="0.6"/>
<circle cx="453.76" cy="167.89" r="0.35" fill="#8a90c0" fill-opacity="0.6"/>
<circle cx="456.82" cy="164.9" r="0.35" fill="#a0a8d0" fill-opacity="0.6"/>
<circle cx="453.71" cy="160.12" r="0.35" fill="#a0a8d0" fill-opacity="0.6"/>
<circle cx="457.03" cy="161.28" r="0.35" fill="#a0a8d0" fill-opacity="0.6"/>
<circle cx="449.46" cy="174.53" r="0.35" fill="#b090b0" fill-opacity="0.6"/>
<circle cx="450.71" cy="166.41" r="0.35" fill="#a0a8d0" fill-opacity="0.6"/>
<circle cx="446.4" cy="172.18" r="0.35" fill="#8a90c0" fill-opacity="0.6"/>
<circle cx="458.59" cy="158.51" r="0.35" fill="#8a90c0" fill-opacity="0.6"/>
<circle cx="456.31" cy="156.4" r="0.35" fill="#b090b0" fill-opacity="0.6"/>
<circle cx="451.37" cy="169.13" r="0.35" fill="#8a90c0" fill-opacity="0.6"/>
<circle cx="446.99" cy="171.81" r="0.35" fill="#a0a8d0" fill-opacity="0.6"/>
<circle cx="455.8" cy="160.38" r="0.35" fill="#b090b0" fill-opacity="0.6"/>
<circle cx="457.38" cy="156.68" r="0.35" fill="#b090b0" fill-opacity="0.6"/>
<circle cx="455.22" cy="161.28" r="0.35" fill="#a0a8d0" fill-opacity="0.6"/>
<circle cx="450.65" cy="172.7" r="0.35" fill="#8a90c0" fill-opacity="0.6"/>
<circle cx="459.6" cy="157.81" r="0.35" fill="#a0a8d0" fill-opacity="0.6"/>
<circle cx="457.12" cy="165.67" r="0.35" fill="#8a90c0" fill-opacity="0.6"/>
<circle cx="446.74" cy="175.93" r="0.35" fill="#8a90c0" fill-opacity="0.6"/>
<circle cx="451.68" cy="172.12" r="0.35" fill="#b090b0" fill-opacity="0.6"/>
<circle cx="452.64" cy="162.08" r="0.35" fill="#a0a8d0" fill-opacity="0.6"/>
<circle cx="456.85" cy="158.51" r="0.35" fill="#b090b0" fill-opacity="0.6"/>
<circle cx="443.4" cy="176.22" r="0.35" fill="#a0a8d0" fill-opacity="0.6"/>
<circle cx="453.63" cy="169.03" r="0.35" fill="#8a90c0" fill-opacity="0.6"/>
<circle cx="451.51" cy="171.04" r="0.35" fill="#a0a8d0" fill-opacity="0.6"/>
<circle cx="443.41" cy="173.53" r="0.35" fill="#a0a8d0" fill-opacity="0.6"/>
<circle cx="455.21" cy="164.62" r="0.35" fill="#a0a8d0" fill-opacity="0.6"/>
<circle cx="451.24" cy="169.77" r="0.35" fill="#a0a8d0" fill-opacity="0.6"/>
<circle cx="446.99" cy="179.5" r="0.35" fill="#a0a8d0" fill-opacity="0.6"/>
<circle cx="447.94" cy="171.44" r="0.35" fill="#8a90c0" fill-opacity="0.6"/>
<circle cx="457.9" cy="173.59" r="0.35" fill="#b090b0" fill-opacity="0.6"/>
</g>
<text x="0.22" y="259.8" font-size="12.2" font-weight="bold" fill="#000" textLength="7.1" lengthAdjust="spacingAndGlyphs" stroke="#000" stroke-width="0.4" >F</text>
<text x="-0.33" y="0" font-size="9.8" transform="translate(17.1 347.95) rotate(-90)" fill="#111" textLength="71.49" lengthAdjust="spacingAndGlyphs" stroke="#111" stroke-width="0.3">% of Annexin V +</text>
<line x1="32.3" y1="263" x2="32.3" y2="366.3" stroke="#555" stroke-width="1"/>
<line x1="32.3" y1="366.3" x2="128.5" y2="366.3" stroke="#555" stroke-width="1"/>
<line x1="80.8" y1="366.3" x2="80.8" y2="368.2" stroke="#555" stroke-width="0.8"/>
<line x1="128.5" y1="366.3" x2="128.5" y2="368.2" stroke="#555" stroke-width="0.8"/>
<line x1="30" y1="366.3" x2="32.3" y2="366.3" stroke="#555" stroke-width="1"/>
<text x="25.86" y="368.8" font-size="7.2" fill="#222" textLength="3.51" lengthAdjust="spacingAndGlyphs" stroke="#222" stroke-width="0.15" >0</text>
<line x1="30" y1="353.44" x2="32.3" y2="353.44" stroke="#555" stroke-width="1"/>
<text x="25.94" y="355.94" font-size="7.2" fill="#222" textLength="3.5" lengthAdjust="spacingAndGlyphs" stroke="#222" stroke-width="0.15" >2</text>
<line x1="30" y1="340.58" x2="32.3" y2="340.58" stroke="#555" stroke-width="1"/>
<text x="25.79" y="343.08" font-size="7.2" fill="#222" textLength="3.52" lengthAdjust="spacingAndGlyphs" stroke="#222" stroke-width="0.15" >4</text>
<line x1="30" y1="327.72" x2="32.3" y2="327.72" stroke="#555" stroke-width="1"/>
<text x="25.9" y="330.22" font-size="7.2" fill="#222" textLength="3.5" lengthAdjust="spacingAndGlyphs" stroke="#222" stroke-width="0.15" >6</text>
<line x1="30" y1="314.86" x2="32.3" y2="314.86" stroke="#555" stroke-width="1"/>
<text x="25.89" y="317.36" font-size="7.2" fill="#222" textLength="3.51" lengthAdjust="spacingAndGlyphs" stroke="#222" stroke-width="0.15" >8</text>
<line x1="30" y1="302" x2="32.3" y2="302" stroke="#555" stroke-width="1"/>
<text x="22.18" y="304.5" font-size="7.2" fill="#222" textLength="7.2" lengthAdjust="spacingAndGlyphs" stroke="#222" stroke-width="0.15" >10</text>
<line x1="30" y1="289.14" x2="32.3" y2="289.14" stroke="#555" stroke-width="1"/>
<text x="22.25" y="291.64" font-size="7.2" fill="#222" textLength="7.2" lengthAdjust="spacingAndGlyphs" stroke="#222" stroke-width="0.15" >12</text>
<line x1="30" y1="276.28" x2="32.3" y2="276.28" stroke="#555" stroke-width="1"/>
<text x="22.11" y="278.78" font-size="7.2" fill="#222" textLength="7.2" lengthAdjust="spacingAndGlyphs" stroke="#222" stroke-width="0.15" >14</text>
<line x1="30" y1="263.42" x2="32.3" y2="263.42" stroke="#555" stroke-width="1"/>
<text x="22.21" y="265.92" font-size="7.2" fill="#222" textLength="7.2" lengthAdjust="spacingAndGlyphs" stroke="#222" stroke-width="0.15" >16</text>
<rect x="40.8" y="285.14" width="10.5" height="81.16" fill="#fff" stroke="#555" stroke-width="1" />
<line x1="45.8" y1="268.5" x2="45.8" y2="300.4" stroke="#555" stroke-width="0.9"/>
<line x1="44.2" y1="268.5" x2="47.4" y2="268.5" stroke="#555" stroke-width="0.9"/>
<line x1="44.2" y1="300.4" x2="47.4" y2="300.4" stroke="#555" stroke-width="0.9"/>
<rect x="51.3" y="317.43" width="11" height="48.87" fill="#8a8a8a" stroke="#666" stroke-width="0.8" />
<line x1="56.8" y1="303.8" x2="56.8" y2="330.8" stroke="#555" stroke-width="0.9"/>
<line x1="55.2" y1="303.8" x2="58.4" y2="303.8" stroke="#555" stroke-width="0.9"/>
<line x1="55.2" y1="330.8" x2="58.4" y2="330.8" stroke="#555" stroke-width="0.9"/>
<rect x="62.3" y="340.58" width="10.3" height="25.72" fill="#111" stroke="none" stroke-width="1" />
<line x1="67.45" y1="336.9" x2="67.45" y2="340.58" stroke="#555" stroke-width="0.9"/>
<line x1="65.85" y1="336.9" x2="69.05" y2="336.9" stroke="#555" stroke-width="0.9"/>
<rect x="89" y="302.5" width="10.7" height="63.8" fill="#fff" stroke="#555" stroke-width="1" />
<line x1="94.1" y1="271.2" x2="94.1" y2="332.6" stroke="#555" stroke-width="0.9"/>
<line x1="92.5" y1="271.2" x2="95.7" y2="271.2" stroke="#555" stroke-width="0.9"/>
<line x1="92.5" y1="332.6" x2="95.7" y2="332.6" stroke="#555" stroke-width="0.9"/>
<rect x="99.7" y="322.58" width="10.3" height="43.72" fill="#8a8a8a" stroke="#666" stroke-width="0.8" />
<line x1="104.85" y1="297.7" x2="104.85" y2="347.4" stroke="#555" stroke-width="0.9"/>
<line x1="103.25" y1="297.7" x2="106.45" y2="297.7" stroke="#555" stroke-width="0.9"/>
<line x1="103.25" y1="347.4" x2="106.45" y2="347.4" stroke="#555" stroke-width="0.9"/>
<rect x="110" y="309.07" width="10.8" height="57.23" fill="#111" stroke="none" stroke-width="1" />
<line x1="115.4" y1="300" x2="115.4" y2="309.07" stroke="#555" stroke-width="0.9"/>
<line x1="113.8" y1="300" x2="117" y2="300" stroke="#555" stroke-width="0.9"/>
<path d="M115.35 290.7 L115.35 295.1 M117.26 291.8 L113.44 294 M117.26 294 L113.44 291.8" stroke="#444" stroke-width="1" fill="none"/>
<rect x="57" y="266.3" width="4.5" height="4.9" fill="#111" stroke="#111" stroke-width="1" />
<rect x="57" y="275.5" width="4.5" height="4.9" fill="#888" stroke="#444" stroke-width="1" />
<rect x="57" y="284.7" width="4.5" height="5.2" fill="#fff" stroke="#222" stroke-width="1" />
<text x="64.2" y="270.8" font-size="7.8" textLength="25.9" lengthAdjust="spacingAndGlyphs" stroke="#111" stroke-width="0.25" >LT HSCs</text>
<text x="64.14" y="280.3" font-size="7.8" textLength="18.99" lengthAdjust="spacingAndGlyphs" stroke="#111" stroke-width="0.25" >MPPs</text>
<text x="64.19" y="289.7" font-size="7.8" textLength="12.36" lengthAdjust="spacingAndGlyphs" stroke="#111" stroke-width="0.25" >LSK</text>
<text x="50.42" y="375.4" font-size="9" textLength="15.52" lengthAdjust="spacingAndGlyphs" stroke="#111" stroke-width="0.25" >Ctrl</text>
<text x="98.67" y="375.4" font-size="9" textLength="11.59" lengthAdjust="spacingAndGlyphs" stroke="#111" stroke-width="0.25" >KO</text>
<text x="149.42" y="259.5" font-size="12.2" font-weight="bold" fill="#000" textLength="9.11" lengthAdjust="spacingAndGlyphs" stroke="#000" stroke-width="0.4" >G</text>
<text x="-0.58" y="0" font-size="6.8" transform="translate(170.4 342.85) rotate(-90)" fill="#111" textLength="70.9" lengthAdjust="spacingAndGlyphs" stroke="#111" stroke-width="0.1">Fluorescence intensity</text>
<line x1="177.6" y1="266.4" x2="268.3" y2="266.4" stroke="#777" stroke-width="1"/>
<line x1="268.3" y1="266.4" x2="268.3" y2="355" stroke="#777" stroke-width="1"/>
<line x1="177.6" y1="266.4" x2="177.6" y2="355" stroke="#555" stroke-width="1"/>
<line x1="177.6" y1="355" x2="268.3" y2="355" stroke="#444" stroke-width="1"/>
<text x="182.02" y="274.6" font-size="6.8" fill="#222" textLength="19.62" lengthAdjust="spacingAndGlyphs" stroke="#222" stroke-width="0.25" >MPPs</text>
<line x1="232.3" y1="272.5" x2="249.3" y2="272.5" stroke="#6aaed8" stroke-width="1.6"/>
<line x1="232.3" y1="286.3" x2="249.3" y2="286.3" stroke="#c8282e" stroke-width="1.6"/>
<text x="251.45" y="275.6" font-size="7.2" fill="#222" textLength="11.52" lengthAdjust="spacingAndGlyphs" stroke="#222" stroke-width="0.25" >Ctrl</text>
<text x="251.27" y="289" font-size="7.2" fill="#222" textLength="9.72" lengthAdjust="spacingAndGlyphs" stroke="#222" stroke-width="0.25" >KO</text>
<line x1="185" y1="355" x2="185" y2="356.8" stroke="#444" stroke-width="0.8"/>
<text x="184.01" y="365.6" font-size="3.8" fill="#777" textLength="1.98" lengthAdjust="spacingAndGlyphs" stroke="#777" stroke-width="0.1" >0</text>
<line x1="197.6" y1="355" x2="197.6" y2="356.8" stroke="#444" stroke-width="0.8"/>
<text x="195.22" y="365.6" font-size="4" fill="#777" textLength="3.35" lengthAdjust="spacingAndGlyphs" stroke="#777" stroke-width="0.1" >10</text>
<text x="198.62" y="363.2" font-size="3" fill="#777" textLength="1.46" lengthAdjust="spacingAndGlyphs" stroke="#777" stroke-width="0.1" >2</text>
<line x1="219" y1="355" x2="219" y2="356.8" stroke="#444" stroke-width="0.8"/>
<text x="216.62" y="365.6" font-size="4" fill="#777" textLength="3.35" lengthAdjust="spacingAndGlyphs" stroke="#777" stroke-width="0.1" >10</text>
<text x="220.05" y="363.2" font-size="3" fill="#777" textLength="1.41" lengthAdjust="spacingAndGlyphs" stroke="#777" stroke-width="0.1" >3</text>
<line x1="239.6" y1="355" x2="239.6" y2="356.8" stroke="#444" stroke-width="0.8"/>
<text x="237.22" y="365.6" font-size="4" fill="#777" textLength="3.35" lengthAdjust="spacingAndGlyphs" stroke="#777" stroke-width="0.1" >10</text>
<text x="240.7" y="363.2" font-size="3" fill="#777" textLength="1.32" lengthAdjust="spacingAndGlyphs" stroke="#777" stroke-width="0.1" >4</text>
<line x1="260" y1="355" x2="260" y2="356.8" stroke="#444" stroke-width="0.8"/>
<text x="257.62" y="365.6" font-size="4" fill="#777" textLength="3.35" lengthAdjust="spacingAndGlyphs" stroke="#777" stroke-width="0.1" >10</text>
<text x="261.05" y="363.2" font-size="3" fill="#777" textLength="1.41" lengthAdjust="spacingAndGlyphs" stroke="#777" stroke-width="0.1" >5</text>
<line x1="178.5" y1="355" x2="178.5" y2="356" stroke="#666" stroke-width="0.5"/>
<line x1="181.5" y1="355" x2="181.5" y2="356" stroke="#666" stroke-width="0.5"/>
<line x1="184.5" y1="355" x2="184.5" y2="356" stroke="#666" stroke-width="0.5"/>
<line x1="187.5" y1="355" x2="187.5" y2="356" stroke="#666" stroke-width="0.5"/>
<line x1="190.5" y1="355" x2="190.5" y2="356" stroke="#666" stroke-width="0.5"/>
<line x1="193.5" y1="355" x2="193.5" y2="356" stroke="#666" stroke-width="0.5"/>
<line x1="196.5" y1="355" x2="196.5" y2="356" stroke="#666" stroke-width="0.5"/>
<line x1="199.5" y1="355" x2="199.5" y2="356" stroke="#666" stroke-width="0.5"/>
<line x1="202.5" y1="355" x2="202.5" y2="356" stroke="#666" stroke-width="0.5"/>
<line x1="205.5" y1="355" x2="205.5" y2="356" stroke="#666" stroke-width="0.5"/>
<line x1="208.5" y1="355" x2="208.5" y2="356" stroke="#666" stroke-width="0.5"/>
<line x1="211.5" y1="355" x2="211.5" y2="356" stroke="#666" stroke-width="0.5"/>
<line x1="214.5" y1="355" x2="214.5" y2="356" stroke="#666" stroke-width="0.5"/>
<line x1="217.5" y1="355" x2="217.5" y2="356" stroke="#666" stroke-width="0.5"/>
<line x1="220.5" y1="355" x2="220.5" y2="356" stroke="#666" stroke-width="0.5"/>
<line x1="223.5" y1="355" x2="223.5" y2="356" stroke="#666" stroke-width="0.5"/>
<line x1="226.5" y1="355" x2="226.5" y2="356" stroke="#666" stroke-width="0.5"/>
<line x1="229.5" y1="355" x2="229.5" y2="356" stroke="#666" stroke-width="0.5"/>
<line x1="232.5" y1="355" x2="232.5" y2="356" stroke="#666" stroke-width="0.5"/>
<line x1="235.5" y1="355" x2="235.5" y2="356" stroke="#666" stroke-width="0.5"/>
<line x1="238.5" y1="355" x2="238.5" y2="356" stroke="#666" stroke-width="0.5"/>
<line x1="241.5" y1="355" x2="241.5" y2="356" stroke="#666" stroke-width="0.5"/>
<line x1="244.5" y1="355" x2="244.5" y2="356" stroke="#666" stroke-width="0.5"/>
<line x1="247.5" y1="355" x2="247.5" y2="356" stroke="#666" stroke-width="0.5"/>
<line x1="250.5" y1="355" x2="250.5" y2="356" stroke="#666" stroke-width="0.5"/>
<line x1="253.5" y1="355" x2="253.5" y2="356" stroke="#666" stroke-width="0.5"/>
<line x1="256.5" y1="355" x2="256.5" y2="356" stroke="#666" stroke-width="0.5"/>
<line x1="259.5" y1="355" x2="259.5" y2="356" stroke="#666" stroke-width="0.5"/>
<line x1="262.5" y1="355" x2="262.5" y2="356" stroke="#666" stroke-width="0.5"/>
<line x1="265.5" y1="355" x2="265.5" y2="356" stroke="#666" stroke-width="0.5"/>
<text x="173.2" y="355.2" font-size="3.2" text-anchor="middle" fill="#777" >0</text>
<text x="198.62" y="373.5" font-size="7.8" textLength="46.85" lengthAdjust="spacingAndGlyphs" stroke="#111" stroke-width="0.1" >Cell ROX Green</text>
<path d="M178.25 355 L186.26 355 L190.8 354.8 L193.41 353.46 L195.92 350.83 L198.66 346.91 L200.45 338.12 L202.51 329.78 L204.64 321.62 L206.49 312.21 L208.12 305.88 L210.26 300 L211.12 296 L211.92 290 L212.85 282 L213.64 291 L214.68 287.5 L215.49 292 L217.21 297 L217.81 305.05 L219.3 316.61 L220.53 327.81 L223.34 339.56 L224.49 348.2 L227.29 352.72 L228.17 354.8 L232.8 355 L268.44 355" fill="none" stroke="#c85a5a" stroke-width="0.8" stroke-opacity="0.9"/>
<path d="M177.72 355 L185.95 355 L189.73 354.8 L193.21 353.22 L195.74 350.83 L197.93 346.81 L199.87 338.12 L201.86 329.5 L204.06 322.15 L205.95 311.49 L206.78 305.73 L208.66 300 L210.39 296 L211.29 290 L212.16 282 L212.81 291 L214.09 287.5 L214.92 292 L215.6 297 L217.52 305.17 L218.66 315.81 L219.58 327.9 L221.77 340.19 L223.87 347.87 L225.51 352.84 L228.47 354.8 L231.56 355 L267.87 355" fill="none" stroke="#7aaed0" stroke-width="0.8" stroke-opacity="0.9"/>
<path d="M178.2 355 L186.2 355 L190.2 354.8 L193.7 353.5 L196.2 350.5 L198.2 346.5 L200.2 338 L202.2 330 L204.2 322 L206.2 312 L207.7 306 L209.2 300 L210.7 296 L211.7 290 L212.4 282 L213.4 291 L214.4 287.5 L215.2 292 L216.2 297 L217.4 305 L218.7 316 L220.2 328 L222.2 340 L224.2 348 L226.2 353 L228.5 354.8 L232.2 355 L268.2 355" fill="none" stroke="#8a8aa0" stroke-width="0.5" stroke-opacity="0.6"/>
<text x="280.21" y="259.8" font-size="12.2" font-weight="bold" fill="#000" textLength="8.48" lengthAdjust="spacingAndGlyphs" stroke="#000" stroke-width="0.4" >H</text>
<text x="-0.77" y="0" font-size="8.4" transform="translate(299.6 355.6) rotate(-90)" fill="#111" textLength="93.19" lengthAdjust="spacingAndGlyphs" stroke="#111" stroke-width="0.2">Fluorescence intensity</text>
<line x1="324.1" y1="254.2" x2="324.1" y2="365.4" stroke="#333" stroke-width="1"/>
<line x1="324.1" y1="365.4" x2="472" y2="365.4" stroke="#333" stroke-width="1"/>
<line x1="398" y1="365.4" x2="398" y2="367.3" stroke="#333" stroke-width="0.8"/>
<line x1="472" y1="365.4" x2="472" y2="367.3" stroke="#333" stroke-width="0.8"/>
<line x1="321.8" y1="365.2" x2="324.1" y2="365.2" stroke="#333" stroke-width="1"/>
<text x="316.16" y="367.7" font-size="7" fill="#222" textLength="3.41" lengthAdjust="spacingAndGlyphs" stroke="#222" stroke-width="0.15" >0</text>
<line x1="321.8" y1="337.84" x2="324.1" y2="337.84" stroke="#333" stroke-width="1"/>
<text x="308.98" y="340.34" font-size="7" fill="#222" textLength="10.59" lengthAdjust="spacingAndGlyphs" stroke="#222" stroke-width="0.15" >400</text>
<line x1="321.8" y1="310.48" x2="324.1" y2="310.48" stroke="#333" stroke-width="1"/>
<text x="308.99" y="312.98" font-size="7" fill="#222" textLength="10.59" lengthAdjust="spacingAndGlyphs" stroke="#222" stroke-width="0.15" >800</text>
<line x1="321.8" y1="283.12" x2="324.1" y2="283.12" stroke="#333" stroke-width="1"/>
<text x="305.41" y="285.62" font-size="7" fill="#222" textLength="14.17" lengthAdjust="spacingAndGlyphs" stroke="#222" stroke-width="0.15" >1200</text>
<line x1="321.8" y1="255.76" x2="324.1" y2="255.76" stroke="#333" stroke-width="1"/>
<text x="305.41" y="258.26" font-size="7" fill="#222" textLength="14.17" lengthAdjust="spacingAndGlyphs" stroke="#222" stroke-width="0.15" >1600</text>
<line x1="350.5" y1="308.43" x2="350.5" y2="317.8" stroke="#222" stroke-width="1"/>
<line x1="348.5" y1="308.43" x2="352.5" y2="308.43" stroke="#222" stroke-width="1"/>
<rect x="340.5" y="318.3" width="20.5" height="47.1" fill="#fff" stroke="#333" stroke-width="1" />
<line x1="371.7" y1="311.51" x2="371.7" y2="316.09" stroke="#222" stroke-width="1"/>
<line x1="369.7" y1="311.51" x2="373.7" y2="311.51" stroke="#222" stroke-width="1"/>
<rect x="361" y="316.09" width="21.4" height="49.31" fill="#000" stroke="none" stroke-width="1" />
<line x1="424.25" y1="282.57" x2="424.25" y2="285.04" stroke="#222" stroke-width="1"/>
<line x1="422.25" y1="282.57" x2="426.25" y2="282.57" stroke="#222" stroke-width="1"/>
<rect x="414" y="285.54" width="21" height="79.86" fill="#fff" stroke="#333" stroke-width="1" />
<line x1="445.6" y1="280.11" x2="445.6" y2="283.53" stroke="#222" stroke-width="1"/>
<line x1="443.6" y1="280.11" x2="447.6" y2="280.11" stroke="#222" stroke-width="1"/>
<rect x="435" y="283.53" width="21.2" height="81.87" fill="#000" stroke="none" stroke-width="1" />
<rect x="340.7" y="257.4" width="5.9" height="5.6" fill="#fff" stroke="#222" stroke-width="1" />
<rect x="340.7" y="267" width="5.9" height="5.6" fill="#111" stroke="#111" stroke-width="1" />
<text x="349.26" y="262.6" font-size="8" textLength="14.23" lengthAdjust="spacingAndGlyphs" stroke="#111" stroke-width="0.25" >Ctrl</text>
<text x="349.52" y="272.5" font-size="8" textLength="10.71" lengthAdjust="spacingAndGlyphs" stroke="#111" stroke-width="0.25" >KO</text>
<text x="346.18" y="376.4" font-size="8.4" textLength="31.67" lengthAdjust="spacingAndGlyphs" stroke="#111" stroke-width="0.25" >LT HSCs</text>
<text x="335.67" y="388.4" font-size="8.4" textLength="52.22" lengthAdjust="spacingAndGlyphs" stroke="#111" stroke-width="0.25" >CellROX MFI</text>
<text x="425.14" y="376.4" font-size="8.4" textLength="22.34" lengthAdjust="spacingAndGlyphs" stroke="#111" stroke-width="0.25" >MPPs</text>
<text x="411.1" y="388.4" font-size="8.4" textLength="49.55" lengthAdjust="spacingAndGlyphs" stroke="#111" stroke-width="0.25" >CellROX MFI</text>
<text x="0.5" y="407.4" font-size="12.2" font-weight="bold" fill="#000" textLength="2.89" lengthAdjust="spacingAndGlyphs" stroke="#000" stroke-width="0.4" >I</text>
<text x="-0.61" y="0" font-size="8" transform="translate(17 513.67) rotate(-90)" fill="#111" textLength="105.95" lengthAdjust="spacingAndGlyphs" stroke="#111" stroke-width="0.25">mRNA relative expression</text>
<line x1="37" y1="408.3" x2="37" y2="515.5" stroke="#333" stroke-width="1"/>
<line x1="37" y1="515.5" x2="195" y2="515.5" stroke="#333" stroke-width="1"/>
<line x1="77" y1="515.5" x2="77" y2="517.4" stroke="#333" stroke-width="0.8"/>
<line x1="116.3" y1="515.5" x2="116.3" y2="517.4" stroke="#333" stroke-width="0.8"/>
<line x1="156.3" y1="515.5" x2="156.3" y2="517.4" stroke="#333" stroke-width="0.8"/>
<line x1="195" y1="515.5" x2="195" y2="517.4" stroke="#333" stroke-width="0.8"/>
<line x1="34.6" y1="515.5" x2="37" y2="515.5" stroke="#333" stroke-width="1"/>
<text x="28.37" y="518" font-size="7.2" fill="#222" textLength="3.37" lengthAdjust="spacingAndGlyphs" stroke="#222" stroke-width="0.2" >0</text>
<line x1="34.6" y1="500.22" x2="37" y2="500.22" stroke="#333" stroke-width="1"/>
<text x="23.02" y="502.72" font-size="7.2" fill="#222" textLength="8.79" lengthAdjust="spacingAndGlyphs" stroke="#222" stroke-width="0.2" >0.2</text>
<line x1="34.6" y1="484.94" x2="37" y2="484.94" stroke="#333" stroke-width="1"/>
<text x="22.89" y="487.44" font-size="7.2" fill="#222" textLength="8.8" lengthAdjust="spacingAndGlyphs" stroke="#222" stroke-width="0.2" >0.4</text>
<line x1="34.6" y1="469.66" x2="37" y2="469.66" stroke="#333" stroke-width="1"/>
<text x="22.98" y="472.16" font-size="7.2" fill="#222" textLength="8.8" lengthAdjust="spacingAndGlyphs" stroke="#222" stroke-width="0.2" >0.6</text>
<line x1="34.6" y1="454.38" x2="37" y2="454.38" stroke="#333" stroke-width="1"/>
<text x="22.98" y="456.88" font-size="7.2" fill="#222" textLength="8.8" lengthAdjust="spacingAndGlyphs" stroke="#222" stroke-width="0.2" >0.8</text>
<line x1="34.6" y1="439.1" x2="37" y2="439.1" stroke="#333" stroke-width="1"/>
<text x="28.45" y="441.6" font-size="7.2" fill="#222" textLength="3.35" lengthAdjust="spacingAndGlyphs" stroke="#222" stroke-width="0.2" >1</text>
<line x1="34.6" y1="423.82" x2="37" y2="423.82" stroke="#333" stroke-width="1"/>
<text x="23.03" y="426.32" font-size="7.2" fill="#222" textLength="8.79" lengthAdjust="spacingAndGlyphs" stroke="#222" stroke-width="0.2" >1.2</text>
<line x1="34.6" y1="408.54" x2="37" y2="408.54" stroke="#333" stroke-width="1"/>
<text x="22.89" y="411.04" font-size="7.2" fill="#222" textLength="8.79" lengthAdjust="spacingAndGlyphs" stroke="#222" stroke-width="0.2" >1.4</text>
<line x1="51.3" y1="431.46" x2="51.3" y2="439.1" stroke="#222" stroke-width="1"/>
<line x1="49" y1="431.46" x2="53.6" y2="431.46" stroke="#222" stroke-width="1"/>
<rect x="45.9" y="439.6" width="11.3" height="75.9" fill="#fff" stroke="#333" stroke-width="1" />
<line x1="63" y1="456.29" x2="63" y2="462.02" stroke="#222" stroke-width="1"/>
<line x1="60.7" y1="456.29" x2="65.3" y2="456.29" stroke="#222" stroke-width="1"/>
<rect x="57.2" y="462.02" width="11.6" height="53.48" fill="#000" stroke="none" stroke-width="1" />
<line x1="90.85" y1="432.99" x2="90.85" y2="439.1" stroke="#222" stroke-width="1"/>
<line x1="88.55" y1="432.99" x2="93.15" y2="432.99" stroke="#222" stroke-width="1"/>
<rect x="85.9" y="439.6" width="10.4" height="75.9" fill="#fff" stroke="#333" stroke-width="1" />
<line x1="102.1" y1="424.58" x2="102.1" y2="430.7" stroke="#222" stroke-width="1"/>
<line x1="99.8" y1="424.58" x2="104.4" y2="424.58" stroke="#222" stroke-width="1"/>
<rect x="96.3" y="430.7" width="11.6" height="84.8" fill="#000" stroke="none" stroke-width="1" />
<line x1="130.35" y1="430.7" x2="130.35" y2="439.1" stroke="#222" stroke-width="1"/>
<line x1="128.05" y1="430.7" x2="132.65" y2="430.7" stroke="#222" stroke-width="1"/>
<rect x="124.9" y="439.6" width="11.4" height="75.9" fill="#fff" stroke="#333" stroke-width="1" />
<line x1="142.1" y1="437.57" x2="142.1" y2="441.01" stroke="#222" stroke-width="1"/>
<line x1="139.8" y1="437.57" x2="144.4" y2="437.57" stroke="#222" stroke-width="1"/>
<rect x="136.3" y="441.01" width="11.6" height="74.49" fill="#000" stroke="none" stroke-width="1" />
<line x1="169.9" y1="436.81" x2="169.9" y2="439.1" stroke="#222" stroke-width="1"/>
<line x1="167.6" y1="436.81" x2="172.2" y2="436.81" stroke="#222" stroke-width="1"/>
<rect x="164.9" y="439.6" width="10.5" height="75.9" fill="#fff" stroke="#333" stroke-width="1" />
<line x1="181.25" y1="424.58" x2="181.25" y2="429.17" stroke="#222" stroke-width="1"/>
<line x1="178.95" y1="424.58" x2="183.55" y2="424.58" stroke="#222" stroke-width="1"/>
<rect x="175.4" y="429.17" width="11.7" height="86.33" fill="#000" stroke="none" stroke-width="1" />
<path d="M63 447.6 L63 451 M64.47 448.45 L61.53 450.15 M64.47 450.15 L61.53 448.45" stroke="#444" stroke-width="0.9" fill="none"/>
<rect x="141.2" y="404.2" width="5.7" height="5.6" fill="#fff" stroke="#222" stroke-width="1" />
<rect x="141.2" y="414.2" width="5.7" height="5.2" fill="#111" stroke="#111" stroke-width="1" />
<text x="149.46" y="409.8" font-size="8" textLength="14.33" lengthAdjust="spacingAndGlyphs" stroke="#111" stroke-width="0.25" >Ctrl</text>
<text x="149.98" y="419.2" font-size="8" textLength="9.61" lengthAdjust="spacingAndGlyphs" stroke="#111" stroke-width="0.25" >KO</text>
<text x="49.87" y="525" font-size="7.6" font-style="italic" textLength="17.04" lengthAdjust="spacingAndGlyphs" stroke="#111" stroke-width="0.2" >Bcl-2</text>
<text x="87.86" y="525.3" font-size="7.6" font-style="italic" textLength="20.3" lengthAdjust="spacingAndGlyphs" stroke="#111" stroke-width="0.2" >Puma</text>
<text x="129.78" y="525.3" font-size="7.6" font-style="italic" textLength="12.18" lengthAdjust="spacingAndGlyphs" stroke="#111" stroke-width="0.2" >p53</text>
<text x="170.38" y="525.3" font-size="7.6" font-style="italic" textLength="12.31" lengthAdjust="spacingAndGlyphs" stroke="#111" stroke-width="0.2" >Bax</text>
</g>
</svg>
</body></html>
